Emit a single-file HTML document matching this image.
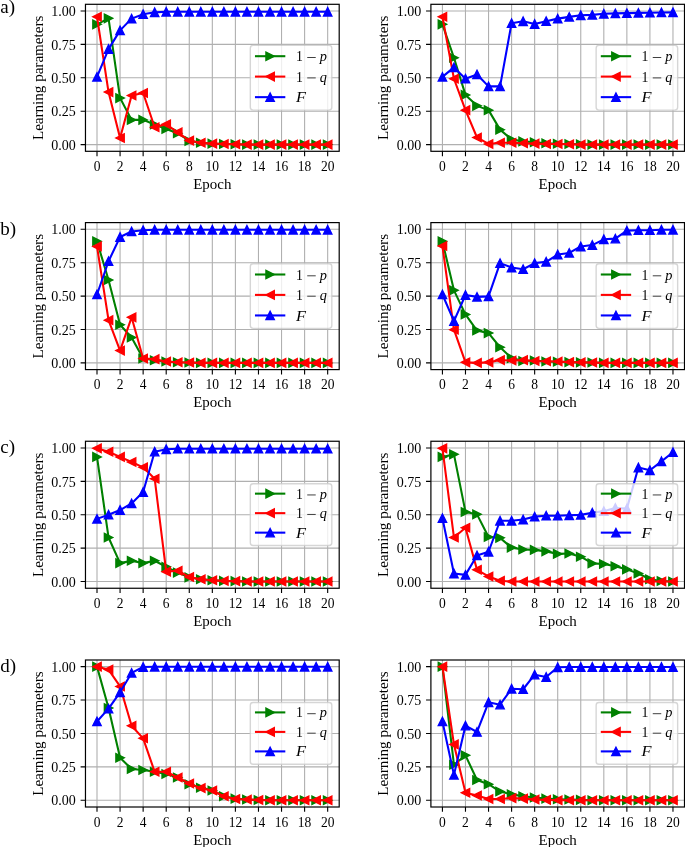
<!DOCTYPE html>
<html><head><meta charset="utf-8"><title>Learning parameters</title>
<style>html,body{margin:0;padding:0;background:#fff}body{width:685px;height:847px;overflow:hidden;font-family:"Liberation Serif",serif}svg{display:block;will-change:transform}</style>
</head><body>
<svg width="685" height="847" viewBox="0 0 685 847" font-family="'Liberation Serif', serif" fill="#000">
<text x="0.3" y="13.0" font-size="19">a)</text>
<clipPath id="c00"><rect x="85.47" y="4.3" width="253.73" height="147.0"/></clipPath>
<g clip-path="url(#c00)">
<path d="M97.00 4.3V151.3M120.07 4.3V151.3M143.14 4.3V151.3M166.20 4.3V151.3M189.27 4.3V151.3M212.33 4.3V151.3M235.40 4.3V151.3M258.47 4.3V151.3M281.53 4.3V151.3M304.60 4.3V151.3M327.67 4.3V151.3M85.47 144.60H339.2M85.47 111.20H339.2M85.47 77.80H339.2M85.47 44.40H339.2M85.47 11.00H339.2" stroke="#b0b0b0" stroke-width="1.11" fill="none"/>
<polyline points="97.00,24.36 108.54,18.35 120.07,98.11 131.60,119.88 143.14,119.88 154.67,124.56 166.20,128.97 177.74,133.24 189.27,140.99 200.80,142.73 212.33,143.66 223.87,144.07 235.40,144.33 246.93,144.60 258.47,144.60 270.00,144.60 281.53,144.60 293.07,144.60 304.60,144.60 316.13,144.60 327.67,144.60" fill="none" stroke="#008000" stroke-width="2.08" stroke-linejoin="round"/>
<polygon points="92.83,20.19 101.17,24.36 92.83,28.53" fill="#008000" stroke="#008000" stroke-width="1.39" stroke-linejoin="miter"/>
<polygon points="104.37,14.18 112.71,18.35 104.37,22.52" fill="#008000" stroke="#008000" stroke-width="1.39" stroke-linejoin="miter"/>
<polygon points="115.90,93.94 124.24,98.11 115.90,102.28" fill="#008000" stroke="#008000" stroke-width="1.39" stroke-linejoin="miter"/>
<polygon points="127.43,115.71 135.77,119.88 127.43,124.05" fill="#008000" stroke="#008000" stroke-width="1.39" stroke-linejoin="miter"/>
<polygon points="138.97,115.71 147.31,119.88 138.97,124.05" fill="#008000" stroke="#008000" stroke-width="1.39" stroke-linejoin="miter"/>
<polygon points="150.50,120.39 158.84,124.56 150.50,128.73" fill="#008000" stroke="#008000" stroke-width="1.39" stroke-linejoin="miter"/>
<polygon points="162.03,124.80 170.37,128.97 162.03,133.14" fill="#008000" stroke="#008000" stroke-width="1.39" stroke-linejoin="miter"/>
<polygon points="173.57,129.07 181.91,133.24 173.57,137.41" fill="#008000" stroke="#008000" stroke-width="1.39" stroke-linejoin="miter"/>
<polygon points="185.10,136.82 193.44,140.99 185.10,145.16" fill="#008000" stroke="#008000" stroke-width="1.39" stroke-linejoin="miter"/>
<polygon points="196.63,138.56 204.97,142.73 196.63,146.90" fill="#008000" stroke="#008000" stroke-width="1.39" stroke-linejoin="miter"/>
<polygon points="208.16,139.49 216.50,143.66 208.16,147.83" fill="#008000" stroke="#008000" stroke-width="1.39" stroke-linejoin="miter"/>
<polygon points="219.70,139.90 228.04,144.07 219.70,148.24" fill="#008000" stroke="#008000" stroke-width="1.39" stroke-linejoin="miter"/>
<polygon points="231.23,140.16 239.57,144.33 231.23,148.50" fill="#008000" stroke="#008000" stroke-width="1.39" stroke-linejoin="miter"/>
<polygon points="242.76,140.43 251.10,144.60 242.76,148.77" fill="#008000" stroke="#008000" stroke-width="1.39" stroke-linejoin="miter"/>
<polygon points="254.30,140.43 262.64,144.60 254.30,148.77" fill="#008000" stroke="#008000" stroke-width="1.39" stroke-linejoin="miter"/>
<polygon points="265.83,140.43 274.17,144.60 265.83,148.77" fill="#008000" stroke="#008000" stroke-width="1.39" stroke-linejoin="miter"/>
<polygon points="277.36,140.43 285.70,144.60 277.36,148.77" fill="#008000" stroke="#008000" stroke-width="1.39" stroke-linejoin="miter"/>
<polygon points="288.90,140.43 297.24,144.60 288.90,148.77" fill="#008000" stroke="#008000" stroke-width="1.39" stroke-linejoin="miter"/>
<polygon points="300.43,140.43 308.77,144.60 300.43,148.77" fill="#008000" stroke="#008000" stroke-width="1.39" stroke-linejoin="miter"/>
<polygon points="311.96,140.43 320.30,144.60 311.96,148.77" fill="#008000" stroke="#008000" stroke-width="1.39" stroke-linejoin="miter"/>
<polygon points="323.50,140.43 331.84,144.60 323.50,148.77" fill="#008000" stroke="#008000" stroke-width="1.39" stroke-linejoin="miter"/>
<polyline points="97.00,16.74 108.54,92.10 120.07,137.92 131.60,95.44 143.14,93.03 154.67,127.23 166.20,124.29 177.74,132.31 189.27,140.59 200.80,142.73 212.33,143.66 223.87,144.07 235.40,144.33 246.93,144.60 258.47,144.60 270.00,144.60 281.53,144.60 293.07,144.60 304.60,144.60 316.13,144.60 327.67,144.60" fill="none" stroke="#ff0000" stroke-width="2.08" stroke-linejoin="round"/>
<polygon points="101.17,12.57 92.83,16.74 101.17,20.91" fill="#ff0000" stroke="#ff0000" stroke-width="1.39" stroke-linejoin="miter"/>
<polygon points="112.71,87.93 104.37,92.10 112.71,96.27" fill="#ff0000" stroke="#ff0000" stroke-width="1.39" stroke-linejoin="miter"/>
<polygon points="124.24,133.75 115.90,137.92 124.24,142.09" fill="#ff0000" stroke="#ff0000" stroke-width="1.39" stroke-linejoin="miter"/>
<polygon points="135.77,91.27 127.43,95.44 135.77,99.61" fill="#ff0000" stroke="#ff0000" stroke-width="1.39" stroke-linejoin="miter"/>
<polygon points="147.31,88.86 138.97,93.03 147.31,97.20" fill="#ff0000" stroke="#ff0000" stroke-width="1.39" stroke-linejoin="miter"/>
<polygon points="158.84,123.06 150.50,127.23 158.84,131.40" fill="#ff0000" stroke="#ff0000" stroke-width="1.39" stroke-linejoin="miter"/>
<polygon points="170.37,120.12 162.03,124.29 170.37,128.46" fill="#ff0000" stroke="#ff0000" stroke-width="1.39" stroke-linejoin="miter"/>
<polygon points="181.91,128.14 173.57,132.31 181.91,136.48" fill="#ff0000" stroke="#ff0000" stroke-width="1.39" stroke-linejoin="miter"/>
<polygon points="193.44,136.42 185.10,140.59 193.44,144.76" fill="#ff0000" stroke="#ff0000" stroke-width="1.39" stroke-linejoin="miter"/>
<polygon points="204.97,138.56 196.63,142.73 204.97,146.90" fill="#ff0000" stroke="#ff0000" stroke-width="1.39" stroke-linejoin="miter"/>
<polygon points="216.50,139.49 208.16,143.66 216.50,147.83" fill="#ff0000" stroke="#ff0000" stroke-width="1.39" stroke-linejoin="miter"/>
<polygon points="228.04,139.90 219.70,144.07 228.04,148.24" fill="#ff0000" stroke="#ff0000" stroke-width="1.39" stroke-linejoin="miter"/>
<polygon points="239.57,140.16 231.23,144.33 239.57,148.50" fill="#ff0000" stroke="#ff0000" stroke-width="1.39" stroke-linejoin="miter"/>
<polygon points="251.10,140.43 242.76,144.60 251.10,148.77" fill="#ff0000" stroke="#ff0000" stroke-width="1.39" stroke-linejoin="miter"/>
<polygon points="262.64,140.43 254.30,144.60 262.64,148.77" fill="#ff0000" stroke="#ff0000" stroke-width="1.39" stroke-linejoin="miter"/>
<polygon points="274.17,140.43 265.83,144.60 274.17,148.77" fill="#ff0000" stroke="#ff0000" stroke-width="1.39" stroke-linejoin="miter"/>
<polygon points="285.70,140.43 277.36,144.60 285.70,148.77" fill="#ff0000" stroke="#ff0000" stroke-width="1.39" stroke-linejoin="miter"/>
<polygon points="297.24,140.43 288.90,144.60 297.24,148.77" fill="#ff0000" stroke="#ff0000" stroke-width="1.39" stroke-linejoin="miter"/>
<polygon points="308.77,140.43 300.43,144.60 308.77,148.77" fill="#ff0000" stroke="#ff0000" stroke-width="1.39" stroke-linejoin="miter"/>
<polygon points="320.30,140.43 311.96,144.60 320.30,148.77" fill="#ff0000" stroke="#ff0000" stroke-width="1.39" stroke-linejoin="miter"/>
<polygon points="331.84,140.43 323.50,144.60 331.84,148.77" fill="#ff0000" stroke="#ff0000" stroke-width="1.39" stroke-linejoin="miter"/>
<polyline points="97.00,76.86 108.54,49.08 120.07,30.37 131.60,18.62 143.14,14.21 154.67,12.34 166.20,11.80 177.74,11.80 189.27,11.80 200.80,11.80 212.33,11.80 223.87,11.80 235.40,11.80 246.93,11.80 258.47,11.80 270.00,11.80 281.53,11.80 293.07,11.80 304.60,11.80 316.13,11.80 327.67,11.80" fill="none" stroke="#0000ff" stroke-width="2.08" stroke-linejoin="round"/>
<polygon points="92.83,81.03 97.00,72.69 101.17,81.03" fill="#0000ff" stroke="#0000ff" stroke-width="1.39" stroke-linejoin="miter"/>
<polygon points="104.37,53.25 108.54,44.91 112.71,53.25" fill="#0000ff" stroke="#0000ff" stroke-width="1.39" stroke-linejoin="miter"/>
<polygon points="115.90,34.54 120.07,26.20 124.24,34.54" fill="#0000ff" stroke="#0000ff" stroke-width="1.39" stroke-linejoin="miter"/>
<polygon points="127.43,22.79 131.60,14.45 135.77,22.79" fill="#0000ff" stroke="#0000ff" stroke-width="1.39" stroke-linejoin="miter"/>
<polygon points="138.97,18.38 143.14,10.04 147.31,18.38" fill="#0000ff" stroke="#0000ff" stroke-width="1.39" stroke-linejoin="miter"/>
<polygon points="150.50,16.51 154.67,8.17 158.84,16.51" fill="#0000ff" stroke="#0000ff" stroke-width="1.39" stroke-linejoin="miter"/>
<polygon points="162.03,15.97 166.20,7.63 170.37,15.97" fill="#0000ff" stroke="#0000ff" stroke-width="1.39" stroke-linejoin="miter"/>
<polygon points="173.57,15.97 177.74,7.63 181.91,15.97" fill="#0000ff" stroke="#0000ff" stroke-width="1.39" stroke-linejoin="miter"/>
<polygon points="185.10,15.97 189.27,7.63 193.44,15.97" fill="#0000ff" stroke="#0000ff" stroke-width="1.39" stroke-linejoin="miter"/>
<polygon points="196.63,15.97 200.80,7.63 204.97,15.97" fill="#0000ff" stroke="#0000ff" stroke-width="1.39" stroke-linejoin="miter"/>
<polygon points="208.16,15.97 212.33,7.63 216.50,15.97" fill="#0000ff" stroke="#0000ff" stroke-width="1.39" stroke-linejoin="miter"/>
<polygon points="219.70,15.97 223.87,7.63 228.04,15.97" fill="#0000ff" stroke="#0000ff" stroke-width="1.39" stroke-linejoin="miter"/>
<polygon points="231.23,15.97 235.40,7.63 239.57,15.97" fill="#0000ff" stroke="#0000ff" stroke-width="1.39" stroke-linejoin="miter"/>
<polygon points="242.76,15.97 246.93,7.63 251.10,15.97" fill="#0000ff" stroke="#0000ff" stroke-width="1.39" stroke-linejoin="miter"/>
<polygon points="254.30,15.97 258.47,7.63 262.64,15.97" fill="#0000ff" stroke="#0000ff" stroke-width="1.39" stroke-linejoin="miter"/>
<polygon points="265.83,15.97 270.00,7.63 274.17,15.97" fill="#0000ff" stroke="#0000ff" stroke-width="1.39" stroke-linejoin="miter"/>
<polygon points="277.36,15.97 281.53,7.63 285.70,15.97" fill="#0000ff" stroke="#0000ff" stroke-width="1.39" stroke-linejoin="miter"/>
<polygon points="288.90,15.97 293.07,7.63 297.24,15.97" fill="#0000ff" stroke="#0000ff" stroke-width="1.39" stroke-linejoin="miter"/>
<polygon points="300.43,15.97 304.60,7.63 308.77,15.97" fill="#0000ff" stroke="#0000ff" stroke-width="1.39" stroke-linejoin="miter"/>
<polygon points="311.96,15.97 316.13,7.63 320.30,15.97" fill="#0000ff" stroke="#0000ff" stroke-width="1.39" stroke-linejoin="miter"/>
<polygon points="323.50,15.97 327.67,7.63 331.84,15.97" fill="#0000ff" stroke="#0000ff" stroke-width="1.39" stroke-linejoin="miter"/>
</g>
<rect x="250.32" y="45.40" width="81.5" height="64.7" rx="2.8" fill="#fff" fill-opacity="0.8" stroke="#ccc" stroke-opacity="0.8" stroke-width="1.39"/>
<path d="M254.97 56.20H285.32" stroke="#008000" stroke-width="2.08"/>
<polygon points="265.95,52.03 274.29,56.20 265.95,60.37" fill="#008000" stroke="#008000" stroke-width="1.39" stroke-linejoin="miter"/>
<text x="296.02" y="61.25" font-size="13.7" textLength="6.9" lengthAdjust="spacingAndGlyphs">1</text>
<path d="M307.22 57.50h8.5" stroke="#000" stroke-width="0.75"/>
<text x="319.72" y="61.25" font-size="14.299999999999999" font-style="italic">p</text>
<path d="M254.97 76.60H285.32" stroke="#ff0000" stroke-width="2.08"/>
<polygon points="274.29,72.43 265.95,76.60 274.29,80.77" fill="#ff0000" stroke="#ff0000" stroke-width="1.39" stroke-linejoin="miter"/>
<text x="296.02" y="81.65" font-size="13.7" textLength="6.9" lengthAdjust="spacingAndGlyphs">1</text>
<path d="M307.22 77.90h8.5" stroke="#000" stroke-width="0.75"/>
<text x="319.72" y="81.65" font-size="14.299999999999999" font-style="italic">q</text>
<path d="M254.97 97.15H285.32" stroke="#0000ff" stroke-width="2.08"/>
<polygon points="265.95,101.32 270.12,92.98 274.29,101.32" fill="#0000ff" stroke="#0000ff" stroke-width="1.39" stroke-linejoin="miter"/>
<text x="295.92" y="102.20" font-size="14.299999999999999" font-style="italic" textLength="10.0" lengthAdjust="spacingAndGlyphs">F</text>
<rect x="85.47" y="4.3" width="253.73" height="147.0" fill="none" stroke="#000" stroke-width="1.2"/>
<path d="M97.00 151.3v4.86M120.07 151.3v4.86M143.14 151.3v4.86M166.20 151.3v4.86M189.27 151.3v4.86M212.33 151.3v4.86M235.40 151.3v4.86M258.47 151.3v4.86M281.53 151.3v4.86M304.60 151.3v4.86M327.67 151.3v4.86M85.47 144.60h-4.86M85.47 111.20h-4.86M85.47 77.80h-4.86M85.47 44.40h-4.86M85.47 11.00h-4.86" stroke="#000" stroke-width="1.11" fill="none"/>
<text x="97.00" y="171.00" font-size="13.7" text-anchor="middle" textLength="6.75" lengthAdjust="spacingAndGlyphs">0</text>
<text x="120.07" y="171.00" font-size="13.7" text-anchor="middle" textLength="6.75" lengthAdjust="spacingAndGlyphs">2</text>
<text x="143.14" y="171.00" font-size="13.7" text-anchor="middle" textLength="6.75" lengthAdjust="spacingAndGlyphs">4</text>
<text x="166.20" y="171.00" font-size="13.7" text-anchor="middle" textLength="6.75" lengthAdjust="spacingAndGlyphs">6</text>
<text x="189.27" y="171.00" font-size="13.7" text-anchor="middle" textLength="6.75" lengthAdjust="spacingAndGlyphs">8</text>
<text x="212.33" y="171.00" font-size="13.7" text-anchor="middle" textLength="13.5" lengthAdjust="spacingAndGlyphs">10</text>
<text x="235.40" y="171.00" font-size="13.7" text-anchor="middle" textLength="13.5" lengthAdjust="spacingAndGlyphs">12</text>
<text x="258.47" y="171.00" font-size="13.7" text-anchor="middle" textLength="13.5" lengthAdjust="spacingAndGlyphs">14</text>
<text x="281.53" y="171.00" font-size="13.7" text-anchor="middle" textLength="13.5" lengthAdjust="spacingAndGlyphs">16</text>
<text x="304.60" y="171.00" font-size="13.7" text-anchor="middle" textLength="13.5" lengthAdjust="spacingAndGlyphs">18</text>
<text x="327.67" y="171.00" font-size="13.7" text-anchor="middle" textLength="13.5" lengthAdjust="spacingAndGlyphs">20</text>
<text x="75.87" y="149.75" font-size="13.7" text-anchor="end" textLength="24.5" lengthAdjust="spacingAndGlyphs">0.00</text>
<text x="75.87" y="116.35" font-size="13.7" text-anchor="end" textLength="24.5" lengthAdjust="spacingAndGlyphs">0.25</text>
<text x="75.87" y="82.95" font-size="13.7" text-anchor="end" textLength="24.5" lengthAdjust="spacingAndGlyphs">0.50</text>
<text x="75.87" y="49.55" font-size="13.7" text-anchor="end" textLength="24.5" lengthAdjust="spacingAndGlyphs">0.75</text>
<text x="75.87" y="16.15" font-size="13.7" text-anchor="end" textLength="24.5" lengthAdjust="spacingAndGlyphs">1.00</text>
<text x="212.33" y="188.80" font-size="13.7" text-anchor="middle" textLength="38.2" lengthAdjust="spacingAndGlyphs">Epoch</text>
<text transform="translate(42.77 77.90) rotate(-90)" font-size="13.7" text-anchor="middle" textLength="124.4" lengthAdjust="spacingAndGlyphs">Learning parameters</text>
<clipPath id="c01"><rect x="430.9" y="4.3" width="253.60000000000002" height="147.0"/></clipPath>
<g clip-path="url(#c01)">
<path d="M442.43 4.3V151.3M465.48 4.3V151.3M488.54 4.3V151.3M511.59 4.3V151.3M534.65 4.3V151.3M557.70 4.3V151.3M580.75 4.3V151.3M603.81 4.3V151.3M626.86 4.3V151.3M649.92 4.3V151.3M672.97 4.3V151.3M430.9 144.60H684.5M430.9 111.20H684.5M430.9 77.80H684.5M430.9 44.40H684.5M430.9 11.00H684.5" stroke="#b0b0b0" stroke-width="1.11" fill="none"/>
<polyline points="442.43,24.36 453.95,57.76 465.48,94.90 477.01,105.86 488.54,110.13 500.06,129.64 511.59,139.52 523.12,141.39 534.65,142.33 546.17,143.26 557.70,143.80 569.23,144.07 580.75,144.33 592.28,144.60 603.81,144.60 615.34,144.60 626.86,144.60 638.39,144.60 649.92,144.60 661.45,144.60 672.97,144.60" fill="none" stroke="#008000" stroke-width="2.08" stroke-linejoin="round"/>
<polygon points="438.26,20.19 446.60,24.36 438.26,28.53" fill="#008000" stroke="#008000" stroke-width="1.39" stroke-linejoin="miter"/>
<polygon points="449.78,53.59 458.12,57.76 449.78,61.93" fill="#008000" stroke="#008000" stroke-width="1.39" stroke-linejoin="miter"/>
<polygon points="461.31,90.73 469.65,94.90 461.31,99.07" fill="#008000" stroke="#008000" stroke-width="1.39" stroke-linejoin="miter"/>
<polygon points="472.84,101.69 481.18,105.86 472.84,110.03" fill="#008000" stroke="#008000" stroke-width="1.39" stroke-linejoin="miter"/>
<polygon points="484.37,105.96 492.71,110.13 484.37,114.30" fill="#008000" stroke="#008000" stroke-width="1.39" stroke-linejoin="miter"/>
<polygon points="495.89,125.47 504.23,129.64 495.89,133.81" fill="#008000" stroke="#008000" stroke-width="1.39" stroke-linejoin="miter"/>
<polygon points="507.42,135.35 515.76,139.52 507.42,143.69" fill="#008000" stroke="#008000" stroke-width="1.39" stroke-linejoin="miter"/>
<polygon points="518.95,137.22 527.29,141.39 518.95,145.56" fill="#008000" stroke="#008000" stroke-width="1.39" stroke-linejoin="miter"/>
<polygon points="530.48,138.16 538.82,142.33 530.48,146.50" fill="#008000" stroke="#008000" stroke-width="1.39" stroke-linejoin="miter"/>
<polygon points="542.00,139.09 550.34,143.26 542.00,147.43" fill="#008000" stroke="#008000" stroke-width="1.39" stroke-linejoin="miter"/>
<polygon points="553.53,139.63 561.87,143.80 553.53,147.97" fill="#008000" stroke="#008000" stroke-width="1.39" stroke-linejoin="miter"/>
<polygon points="565.06,139.90 573.40,144.07 565.06,148.24" fill="#008000" stroke="#008000" stroke-width="1.39" stroke-linejoin="miter"/>
<polygon points="576.58,140.16 584.92,144.33 576.58,148.50" fill="#008000" stroke="#008000" stroke-width="1.39" stroke-linejoin="miter"/>
<polygon points="588.11,140.43 596.45,144.60 588.11,148.77" fill="#008000" stroke="#008000" stroke-width="1.39" stroke-linejoin="miter"/>
<polygon points="599.64,140.43 607.98,144.60 599.64,148.77" fill="#008000" stroke="#008000" stroke-width="1.39" stroke-linejoin="miter"/>
<polygon points="611.17,140.43 619.51,144.60 611.17,148.77" fill="#008000" stroke="#008000" stroke-width="1.39" stroke-linejoin="miter"/>
<polygon points="622.69,140.43 631.03,144.60 622.69,148.77" fill="#008000" stroke="#008000" stroke-width="1.39" stroke-linejoin="miter"/>
<polygon points="634.22,140.43 642.56,144.60 634.22,148.77" fill="#008000" stroke="#008000" stroke-width="1.39" stroke-linejoin="miter"/>
<polygon points="645.75,140.43 654.09,144.60 645.75,148.77" fill="#008000" stroke="#008000" stroke-width="1.39" stroke-linejoin="miter"/>
<polygon points="657.28,140.43 665.62,144.60 657.28,148.77" fill="#008000" stroke="#008000" stroke-width="1.39" stroke-linejoin="miter"/>
<polygon points="668.80,140.43 677.14,144.60 668.80,148.77" fill="#008000" stroke="#008000" stroke-width="1.39" stroke-linejoin="miter"/>
<polyline points="442.43,16.74 453.95,78.74 465.48,110.13 477.01,137.52 488.54,143.93 500.06,142.73 511.59,142.73 523.12,143.26 534.65,143.66 546.17,143.93 557.70,144.07 569.23,144.33 580.75,144.60 592.28,144.60 603.81,144.60 615.34,144.60 626.86,144.60 638.39,144.60 649.92,144.60 661.45,144.60 672.97,144.60" fill="none" stroke="#ff0000" stroke-width="2.08" stroke-linejoin="round"/>
<polygon points="446.60,12.57 438.26,16.74 446.60,20.91" fill="#ff0000" stroke="#ff0000" stroke-width="1.39" stroke-linejoin="miter"/>
<polygon points="458.12,74.57 449.78,78.74 458.12,82.91" fill="#ff0000" stroke="#ff0000" stroke-width="1.39" stroke-linejoin="miter"/>
<polygon points="469.65,105.96 461.31,110.13 469.65,114.30" fill="#ff0000" stroke="#ff0000" stroke-width="1.39" stroke-linejoin="miter"/>
<polygon points="481.18,133.35 472.84,137.52 481.18,141.69" fill="#ff0000" stroke="#ff0000" stroke-width="1.39" stroke-linejoin="miter"/>
<polygon points="492.71,139.76 484.37,143.93 492.71,148.10" fill="#ff0000" stroke="#ff0000" stroke-width="1.39" stroke-linejoin="miter"/>
<polygon points="504.23,138.56 495.89,142.73 504.23,146.90" fill="#ff0000" stroke="#ff0000" stroke-width="1.39" stroke-linejoin="miter"/>
<polygon points="515.76,138.56 507.42,142.73 515.76,146.90" fill="#ff0000" stroke="#ff0000" stroke-width="1.39" stroke-linejoin="miter"/>
<polygon points="527.29,139.09 518.95,143.26 527.29,147.43" fill="#ff0000" stroke="#ff0000" stroke-width="1.39" stroke-linejoin="miter"/>
<polygon points="538.82,139.49 530.48,143.66 538.82,147.83" fill="#ff0000" stroke="#ff0000" stroke-width="1.39" stroke-linejoin="miter"/>
<polygon points="550.34,139.76 542.00,143.93 550.34,148.10" fill="#ff0000" stroke="#ff0000" stroke-width="1.39" stroke-linejoin="miter"/>
<polygon points="561.87,139.90 553.53,144.07 561.87,148.24" fill="#ff0000" stroke="#ff0000" stroke-width="1.39" stroke-linejoin="miter"/>
<polygon points="573.40,140.16 565.06,144.33 573.40,148.50" fill="#ff0000" stroke="#ff0000" stroke-width="1.39" stroke-linejoin="miter"/>
<polygon points="584.92,140.43 576.58,144.60 584.92,148.77" fill="#ff0000" stroke="#ff0000" stroke-width="1.39" stroke-linejoin="miter"/>
<polygon points="596.45,140.43 588.11,144.60 596.45,148.77" fill="#ff0000" stroke="#ff0000" stroke-width="1.39" stroke-linejoin="miter"/>
<polygon points="607.98,140.43 599.64,144.60 607.98,148.77" fill="#ff0000" stroke="#ff0000" stroke-width="1.39" stroke-linejoin="miter"/>
<polygon points="619.51,140.43 611.17,144.60 619.51,148.77" fill="#ff0000" stroke="#ff0000" stroke-width="1.39" stroke-linejoin="miter"/>
<polygon points="631.03,140.43 622.69,144.60 631.03,148.77" fill="#ff0000" stroke="#ff0000" stroke-width="1.39" stroke-linejoin="miter"/>
<polygon points="642.56,140.43 634.22,144.60 642.56,148.77" fill="#ff0000" stroke="#ff0000" stroke-width="1.39" stroke-linejoin="miter"/>
<polygon points="654.09,140.43 645.75,144.60 654.09,148.77" fill="#ff0000" stroke="#ff0000" stroke-width="1.39" stroke-linejoin="miter"/>
<polygon points="665.62,140.43 657.28,144.60 665.62,148.77" fill="#ff0000" stroke="#ff0000" stroke-width="1.39" stroke-linejoin="miter"/>
<polygon points="677.14,140.43 668.80,144.60 677.14,148.77" fill="#ff0000" stroke="#ff0000" stroke-width="1.39" stroke-linejoin="miter"/>
<polyline points="442.43,76.86 453.95,67.38 465.48,78.74 477.01,74.46 488.54,86.35 500.06,86.35 511.59,23.16 523.12,21.29 534.65,24.09 546.17,21.15 557.70,18.62 569.23,16.88 580.75,15.28 592.28,14.87 603.81,13.81 615.34,13.40 626.86,13.14 638.39,12.87 649.92,12.74 661.45,12.47 672.97,12.34" fill="none" stroke="#0000ff" stroke-width="2.08" stroke-linejoin="round"/>
<polygon points="438.26,81.03 442.43,72.69 446.60,81.03" fill="#0000ff" stroke="#0000ff" stroke-width="1.39" stroke-linejoin="miter"/>
<polygon points="449.78,71.55 453.95,63.21 458.12,71.55" fill="#0000ff" stroke="#0000ff" stroke-width="1.39" stroke-linejoin="miter"/>
<polygon points="461.31,82.91 465.48,74.57 469.65,82.91" fill="#0000ff" stroke="#0000ff" stroke-width="1.39" stroke-linejoin="miter"/>
<polygon points="472.84,78.63 477.01,70.29 481.18,78.63" fill="#0000ff" stroke="#0000ff" stroke-width="1.39" stroke-linejoin="miter"/>
<polygon points="484.37,90.52 488.54,82.18 492.71,90.52" fill="#0000ff" stroke="#0000ff" stroke-width="1.39" stroke-linejoin="miter"/>
<polygon points="495.89,90.52 500.06,82.18 504.23,90.52" fill="#0000ff" stroke="#0000ff" stroke-width="1.39" stroke-linejoin="miter"/>
<polygon points="507.42,27.33 511.59,18.99 515.76,27.33" fill="#0000ff" stroke="#0000ff" stroke-width="1.39" stroke-linejoin="miter"/>
<polygon points="518.95,25.46 523.12,17.12 527.29,25.46" fill="#0000ff" stroke="#0000ff" stroke-width="1.39" stroke-linejoin="miter"/>
<polygon points="530.48,28.26 534.65,19.92 538.82,28.26" fill="#0000ff" stroke="#0000ff" stroke-width="1.39" stroke-linejoin="miter"/>
<polygon points="542.00,25.32 546.17,16.98 550.34,25.32" fill="#0000ff" stroke="#0000ff" stroke-width="1.39" stroke-linejoin="miter"/>
<polygon points="553.53,22.79 557.70,14.45 561.87,22.79" fill="#0000ff" stroke="#0000ff" stroke-width="1.39" stroke-linejoin="miter"/>
<polygon points="565.06,21.05 569.23,12.71 573.40,21.05" fill="#0000ff" stroke="#0000ff" stroke-width="1.39" stroke-linejoin="miter"/>
<polygon points="576.58,19.45 580.75,11.11 584.92,19.45" fill="#0000ff" stroke="#0000ff" stroke-width="1.39" stroke-linejoin="miter"/>
<polygon points="588.11,19.04 592.28,10.70 596.45,19.04" fill="#0000ff" stroke="#0000ff" stroke-width="1.39" stroke-linejoin="miter"/>
<polygon points="599.64,17.98 603.81,9.64 607.98,17.98" fill="#0000ff" stroke="#0000ff" stroke-width="1.39" stroke-linejoin="miter"/>
<polygon points="611.17,17.57 615.34,9.23 619.51,17.57" fill="#0000ff" stroke="#0000ff" stroke-width="1.39" stroke-linejoin="miter"/>
<polygon points="622.69,17.31 626.86,8.97 631.03,17.31" fill="#0000ff" stroke="#0000ff" stroke-width="1.39" stroke-linejoin="miter"/>
<polygon points="634.22,17.04 638.39,8.70 642.56,17.04" fill="#0000ff" stroke="#0000ff" stroke-width="1.39" stroke-linejoin="miter"/>
<polygon points="645.75,16.91 649.92,8.57 654.09,16.91" fill="#0000ff" stroke="#0000ff" stroke-width="1.39" stroke-linejoin="miter"/>
<polygon points="657.28,16.64 661.45,8.30 665.62,16.64" fill="#0000ff" stroke="#0000ff" stroke-width="1.39" stroke-linejoin="miter"/>
<polygon points="668.80,16.51 672.97,8.17 677.14,16.51" fill="#0000ff" stroke="#0000ff" stroke-width="1.39" stroke-linejoin="miter"/>
</g>
<rect x="596.15" y="45.40" width="81.5" height="64.7" rx="2.8" fill="#fff" fill-opacity="0.8" stroke="#ccc" stroke-opacity="0.8" stroke-width="1.39"/>
<path d="M600.80 56.20H631.15" stroke="#008000" stroke-width="2.08"/>
<polygon points="611.78,52.03 620.12,56.20 611.78,60.37" fill="#008000" stroke="#008000" stroke-width="1.39" stroke-linejoin="miter"/>
<text x="641.55" y="61.25" font-size="13.7" textLength="6.9" lengthAdjust="spacingAndGlyphs">1</text>
<path d="M652.75 57.50h8.5" stroke="#000" stroke-width="0.75"/>
<text x="665.25" y="61.25" font-size="14.299999999999999" font-style="italic">p</text>
<path d="M600.80 76.60H631.15" stroke="#ff0000" stroke-width="2.08"/>
<polygon points="620.12,72.43 611.78,76.60 620.12,80.77" fill="#ff0000" stroke="#ff0000" stroke-width="1.39" stroke-linejoin="miter"/>
<text x="641.55" y="81.65" font-size="13.7" textLength="6.9" lengthAdjust="spacingAndGlyphs">1</text>
<path d="M652.75 77.90h8.5" stroke="#000" stroke-width="0.75"/>
<text x="665.25" y="81.65" font-size="14.299999999999999" font-style="italic">q</text>
<path d="M600.80 97.15H631.15" stroke="#0000ff" stroke-width="2.08"/>
<polygon points="611.78,101.32 615.95,92.98 620.12,101.32" fill="#0000ff" stroke="#0000ff" stroke-width="1.39" stroke-linejoin="miter"/>
<text x="641.45" y="102.20" font-size="14.299999999999999" font-style="italic" textLength="10.0" lengthAdjust="spacingAndGlyphs">F</text>
<rect x="430.9" y="4.3" width="253.60000000000002" height="147.0" fill="none" stroke="#000" stroke-width="1.2"/>
<path d="M442.43 151.3v4.86M465.48 151.3v4.86M488.54 151.3v4.86M511.59 151.3v4.86M534.65 151.3v4.86M557.70 151.3v4.86M580.75 151.3v4.86M603.81 151.3v4.86M626.86 151.3v4.86M649.92 151.3v4.86M672.97 151.3v4.86M430.9 144.60h-4.86M430.9 111.20h-4.86M430.9 77.80h-4.86M430.9 44.40h-4.86M430.9 11.00h-4.86" stroke="#000" stroke-width="1.11" fill="none"/>
<text x="442.43" y="171.00" font-size="13.7" text-anchor="middle" textLength="6.75" lengthAdjust="spacingAndGlyphs">0</text>
<text x="465.48" y="171.00" font-size="13.7" text-anchor="middle" textLength="6.75" lengthAdjust="spacingAndGlyphs">2</text>
<text x="488.54" y="171.00" font-size="13.7" text-anchor="middle" textLength="6.75" lengthAdjust="spacingAndGlyphs">4</text>
<text x="511.59" y="171.00" font-size="13.7" text-anchor="middle" textLength="6.75" lengthAdjust="spacingAndGlyphs">6</text>
<text x="534.65" y="171.00" font-size="13.7" text-anchor="middle" textLength="6.75" lengthAdjust="spacingAndGlyphs">8</text>
<text x="557.70" y="171.00" font-size="13.7" text-anchor="middle" textLength="13.5" lengthAdjust="spacingAndGlyphs">10</text>
<text x="580.75" y="171.00" font-size="13.7" text-anchor="middle" textLength="13.5" lengthAdjust="spacingAndGlyphs">12</text>
<text x="603.81" y="171.00" font-size="13.7" text-anchor="middle" textLength="13.5" lengthAdjust="spacingAndGlyphs">14</text>
<text x="626.86" y="171.00" font-size="13.7" text-anchor="middle" textLength="13.5" lengthAdjust="spacingAndGlyphs">16</text>
<text x="649.92" y="171.00" font-size="13.7" text-anchor="middle" textLength="13.5" lengthAdjust="spacingAndGlyphs">18</text>
<text x="672.97" y="171.00" font-size="13.7" text-anchor="middle" textLength="13.5" lengthAdjust="spacingAndGlyphs">20</text>
<text x="421.30" y="149.75" font-size="13.7" text-anchor="end" textLength="24.5" lengthAdjust="spacingAndGlyphs">0.00</text>
<text x="421.30" y="116.35" font-size="13.7" text-anchor="end" textLength="24.5" lengthAdjust="spacingAndGlyphs">0.25</text>
<text x="421.30" y="82.95" font-size="13.7" text-anchor="end" textLength="24.5" lengthAdjust="spacingAndGlyphs">0.50</text>
<text x="421.30" y="49.55" font-size="13.7" text-anchor="end" textLength="24.5" lengthAdjust="spacingAndGlyphs">0.75</text>
<text x="421.30" y="16.15" font-size="13.7" text-anchor="end" textLength="24.5" lengthAdjust="spacingAndGlyphs">1.00</text>
<text x="557.70" y="188.80" font-size="13.7" text-anchor="middle" textLength="38.2" lengthAdjust="spacingAndGlyphs">Epoch</text>
<text transform="translate(388.20 77.90) rotate(-90)" font-size="13.7" text-anchor="middle" textLength="124.4" lengthAdjust="spacingAndGlyphs">Learning parameters</text>
<text x="0.3" y="234.8" font-size="19">b)</text>
<clipPath id="c10"><rect x="85.47" y="222.6" width="253.73" height="147.0"/></clipPath>
<g clip-path="url(#c10)">
<path d="M97.00 222.6V369.6M120.07 222.6V369.6M143.14 222.6V369.6M166.20 222.6V369.6M189.27 222.6V369.6M212.33 222.6V369.6M235.40 222.6V369.6M258.47 222.6V369.6M281.53 222.6V369.6M304.60 222.6V369.6M327.67 222.6V369.6M85.47 362.90H339.2M85.47 329.50H339.2M85.47 296.10H339.2M85.47 262.70H339.2M85.47 229.30H339.2" stroke="#b0b0b0" stroke-width="1.11" fill="none"/>
<polyline points="97.00,241.32 108.54,280.07 120.07,324.82 131.60,337.52 143.14,358.49 154.67,360.23 166.20,361.43 177.74,362.23 189.27,362.50 200.80,362.90 212.33,362.90 223.87,362.90 235.40,362.90 246.93,362.90 258.47,362.90 270.00,362.90 281.53,362.90 293.07,362.90 304.60,362.90 316.13,362.90 327.67,362.90" fill="none" stroke="#008000" stroke-width="2.08" stroke-linejoin="round"/>
<polygon points="92.83,237.15 101.17,241.32 92.83,245.49" fill="#008000" stroke="#008000" stroke-width="1.39" stroke-linejoin="miter"/>
<polygon points="104.37,275.90 112.71,280.07 104.37,284.24" fill="#008000" stroke="#008000" stroke-width="1.39" stroke-linejoin="miter"/>
<polygon points="115.90,320.65 124.24,324.82 115.90,328.99" fill="#008000" stroke="#008000" stroke-width="1.39" stroke-linejoin="miter"/>
<polygon points="127.43,333.35 135.77,337.52 127.43,341.69" fill="#008000" stroke="#008000" stroke-width="1.39" stroke-linejoin="miter"/>
<polygon points="138.97,354.32 147.31,358.49 138.97,362.66" fill="#008000" stroke="#008000" stroke-width="1.39" stroke-linejoin="miter"/>
<polygon points="150.50,356.06 158.84,360.23 150.50,364.40" fill="#008000" stroke="#008000" stroke-width="1.39" stroke-linejoin="miter"/>
<polygon points="162.03,357.26 170.37,361.43 162.03,365.60" fill="#008000" stroke="#008000" stroke-width="1.39" stroke-linejoin="miter"/>
<polygon points="173.57,358.06 181.91,362.23 173.57,366.40" fill="#008000" stroke="#008000" stroke-width="1.39" stroke-linejoin="miter"/>
<polygon points="185.10,358.33 193.44,362.50 185.10,366.67" fill="#008000" stroke="#008000" stroke-width="1.39" stroke-linejoin="miter"/>
<polygon points="196.63,358.73 204.97,362.90 196.63,367.07" fill="#008000" stroke="#008000" stroke-width="1.39" stroke-linejoin="miter"/>
<polygon points="208.16,358.73 216.50,362.90 208.16,367.07" fill="#008000" stroke="#008000" stroke-width="1.39" stroke-linejoin="miter"/>
<polygon points="219.70,358.73 228.04,362.90 219.70,367.07" fill="#008000" stroke="#008000" stroke-width="1.39" stroke-linejoin="miter"/>
<polygon points="231.23,358.73 239.57,362.90 231.23,367.07" fill="#008000" stroke="#008000" stroke-width="1.39" stroke-linejoin="miter"/>
<polygon points="242.76,358.73 251.10,362.90 242.76,367.07" fill="#008000" stroke="#008000" stroke-width="1.39" stroke-linejoin="miter"/>
<polygon points="254.30,358.73 262.64,362.90 254.30,367.07" fill="#008000" stroke="#008000" stroke-width="1.39" stroke-linejoin="miter"/>
<polygon points="265.83,358.73 274.17,362.90 265.83,367.07" fill="#008000" stroke="#008000" stroke-width="1.39" stroke-linejoin="miter"/>
<polygon points="277.36,358.73 285.70,362.90 277.36,367.07" fill="#008000" stroke="#008000" stroke-width="1.39" stroke-linejoin="miter"/>
<polygon points="288.90,358.73 297.24,362.90 288.90,367.07" fill="#008000" stroke="#008000" stroke-width="1.39" stroke-linejoin="miter"/>
<polygon points="300.43,358.73 308.77,362.90 300.43,367.07" fill="#008000" stroke="#008000" stroke-width="1.39" stroke-linejoin="miter"/>
<polygon points="311.96,358.73 320.30,362.90 311.96,367.07" fill="#008000" stroke="#008000" stroke-width="1.39" stroke-linejoin="miter"/>
<polygon points="323.50,358.73 331.84,362.90 323.50,367.07" fill="#008000" stroke="#008000" stroke-width="1.39" stroke-linejoin="miter"/>
<polyline points="97.00,246.40 108.54,320.15 120.07,350.61 131.60,317.34 143.14,358.49 154.67,359.16 166.20,361.43 177.74,362.23 189.27,362.50 200.80,362.90 212.33,362.90 223.87,362.90 235.40,362.90 246.93,362.90 258.47,362.90 270.00,362.90 281.53,362.90 293.07,362.90 304.60,362.90 316.13,362.90 327.67,362.90" fill="none" stroke="#ff0000" stroke-width="2.08" stroke-linejoin="round"/>
<polygon points="101.17,242.23 92.83,246.40 101.17,250.57" fill="#ff0000" stroke="#ff0000" stroke-width="1.39" stroke-linejoin="miter"/>
<polygon points="112.71,315.98 104.37,320.15 112.71,324.32" fill="#ff0000" stroke="#ff0000" stroke-width="1.39" stroke-linejoin="miter"/>
<polygon points="124.24,346.44 115.90,350.61 124.24,354.78" fill="#ff0000" stroke="#ff0000" stroke-width="1.39" stroke-linejoin="miter"/>
<polygon points="135.77,313.17 127.43,317.34 135.77,321.51" fill="#ff0000" stroke="#ff0000" stroke-width="1.39" stroke-linejoin="miter"/>
<polygon points="147.31,354.32 138.97,358.49 147.31,362.66" fill="#ff0000" stroke="#ff0000" stroke-width="1.39" stroke-linejoin="miter"/>
<polygon points="158.84,354.99 150.50,359.16 158.84,363.33" fill="#ff0000" stroke="#ff0000" stroke-width="1.39" stroke-linejoin="miter"/>
<polygon points="170.37,357.26 162.03,361.43 170.37,365.60" fill="#ff0000" stroke="#ff0000" stroke-width="1.39" stroke-linejoin="miter"/>
<polygon points="181.91,358.06 173.57,362.23 181.91,366.40" fill="#ff0000" stroke="#ff0000" stroke-width="1.39" stroke-linejoin="miter"/>
<polygon points="193.44,358.33 185.10,362.50 193.44,366.67" fill="#ff0000" stroke="#ff0000" stroke-width="1.39" stroke-linejoin="miter"/>
<polygon points="204.97,358.73 196.63,362.90 204.97,367.07" fill="#ff0000" stroke="#ff0000" stroke-width="1.39" stroke-linejoin="miter"/>
<polygon points="216.50,358.73 208.16,362.90 216.50,367.07" fill="#ff0000" stroke="#ff0000" stroke-width="1.39" stroke-linejoin="miter"/>
<polygon points="228.04,358.73 219.70,362.90 228.04,367.07" fill="#ff0000" stroke="#ff0000" stroke-width="1.39" stroke-linejoin="miter"/>
<polygon points="239.57,358.73 231.23,362.90 239.57,367.07" fill="#ff0000" stroke="#ff0000" stroke-width="1.39" stroke-linejoin="miter"/>
<polygon points="251.10,358.73 242.76,362.90 251.10,367.07" fill="#ff0000" stroke="#ff0000" stroke-width="1.39" stroke-linejoin="miter"/>
<polygon points="262.64,358.73 254.30,362.90 262.64,367.07" fill="#ff0000" stroke="#ff0000" stroke-width="1.39" stroke-linejoin="miter"/>
<polygon points="274.17,358.73 265.83,362.90 274.17,367.07" fill="#ff0000" stroke="#ff0000" stroke-width="1.39" stroke-linejoin="miter"/>
<polygon points="285.70,358.73 277.36,362.90 285.70,367.07" fill="#ff0000" stroke="#ff0000" stroke-width="1.39" stroke-linejoin="miter"/>
<polygon points="297.24,358.73 288.90,362.90 297.24,367.07" fill="#ff0000" stroke="#ff0000" stroke-width="1.39" stroke-linejoin="miter"/>
<polygon points="308.77,358.73 300.43,362.90 308.77,367.07" fill="#ff0000" stroke="#ff0000" stroke-width="1.39" stroke-linejoin="miter"/>
<polygon points="320.30,358.73 311.96,362.90 320.30,367.07" fill="#ff0000" stroke="#ff0000" stroke-width="1.39" stroke-linejoin="miter"/>
<polygon points="331.84,358.73 323.50,362.90 331.84,367.07" fill="#ff0000" stroke="#ff0000" stroke-width="1.39" stroke-linejoin="miter"/>
<polyline points="97.00,294.50 108.54,261.23 120.07,237.05 131.60,231.44 143.14,230.24 154.67,229.83 166.20,229.83 177.74,229.83 189.27,229.83 200.80,229.83 212.33,229.83 223.87,229.83 235.40,229.83 246.93,229.83 258.47,229.83 270.00,229.83 281.53,229.83 293.07,229.83 304.60,229.83 316.13,229.83 327.67,229.83" fill="none" stroke="#0000ff" stroke-width="2.08" stroke-linejoin="round"/>
<polygon points="92.83,298.67 97.00,290.33 101.17,298.67" fill="#0000ff" stroke="#0000ff" stroke-width="1.39" stroke-linejoin="miter"/>
<polygon points="104.37,265.40 108.54,257.06 112.71,265.40" fill="#0000ff" stroke="#0000ff" stroke-width="1.39" stroke-linejoin="miter"/>
<polygon points="115.90,241.22 120.07,232.88 124.24,241.22" fill="#0000ff" stroke="#0000ff" stroke-width="1.39" stroke-linejoin="miter"/>
<polygon points="127.43,235.61 131.60,227.27 135.77,235.61" fill="#0000ff" stroke="#0000ff" stroke-width="1.39" stroke-linejoin="miter"/>
<polygon points="138.97,234.41 143.14,226.07 147.31,234.41" fill="#0000ff" stroke="#0000ff" stroke-width="1.39" stroke-linejoin="miter"/>
<polygon points="150.50,234.00 154.67,225.66 158.84,234.00" fill="#0000ff" stroke="#0000ff" stroke-width="1.39" stroke-linejoin="miter"/>
<polygon points="162.03,234.00 166.20,225.66 170.37,234.00" fill="#0000ff" stroke="#0000ff" stroke-width="1.39" stroke-linejoin="miter"/>
<polygon points="173.57,234.00 177.74,225.66 181.91,234.00" fill="#0000ff" stroke="#0000ff" stroke-width="1.39" stroke-linejoin="miter"/>
<polygon points="185.10,234.00 189.27,225.66 193.44,234.00" fill="#0000ff" stroke="#0000ff" stroke-width="1.39" stroke-linejoin="miter"/>
<polygon points="196.63,234.00 200.80,225.66 204.97,234.00" fill="#0000ff" stroke="#0000ff" stroke-width="1.39" stroke-linejoin="miter"/>
<polygon points="208.16,234.00 212.33,225.66 216.50,234.00" fill="#0000ff" stroke="#0000ff" stroke-width="1.39" stroke-linejoin="miter"/>
<polygon points="219.70,234.00 223.87,225.66 228.04,234.00" fill="#0000ff" stroke="#0000ff" stroke-width="1.39" stroke-linejoin="miter"/>
<polygon points="231.23,234.00 235.40,225.66 239.57,234.00" fill="#0000ff" stroke="#0000ff" stroke-width="1.39" stroke-linejoin="miter"/>
<polygon points="242.76,234.00 246.93,225.66 251.10,234.00" fill="#0000ff" stroke="#0000ff" stroke-width="1.39" stroke-linejoin="miter"/>
<polygon points="254.30,234.00 258.47,225.66 262.64,234.00" fill="#0000ff" stroke="#0000ff" stroke-width="1.39" stroke-linejoin="miter"/>
<polygon points="265.83,234.00 270.00,225.66 274.17,234.00" fill="#0000ff" stroke="#0000ff" stroke-width="1.39" stroke-linejoin="miter"/>
<polygon points="277.36,234.00 281.53,225.66 285.70,234.00" fill="#0000ff" stroke="#0000ff" stroke-width="1.39" stroke-linejoin="miter"/>
<polygon points="288.90,234.00 293.07,225.66 297.24,234.00" fill="#0000ff" stroke="#0000ff" stroke-width="1.39" stroke-linejoin="miter"/>
<polygon points="300.43,234.00 304.60,225.66 308.77,234.00" fill="#0000ff" stroke="#0000ff" stroke-width="1.39" stroke-linejoin="miter"/>
<polygon points="311.96,234.00 316.13,225.66 320.30,234.00" fill="#0000ff" stroke="#0000ff" stroke-width="1.39" stroke-linejoin="miter"/>
<polygon points="323.50,234.00 327.67,225.66 331.84,234.00" fill="#0000ff" stroke="#0000ff" stroke-width="1.39" stroke-linejoin="miter"/>
</g>
<rect x="250.32" y="263.70" width="81.5" height="64.7" rx="2.8" fill="#fff" fill-opacity="0.8" stroke="#ccc" stroke-opacity="0.8" stroke-width="1.39"/>
<path d="M254.97 274.50H285.32" stroke="#008000" stroke-width="2.08"/>
<polygon points="265.95,270.33 274.29,274.50 265.95,278.67" fill="#008000" stroke="#008000" stroke-width="1.39" stroke-linejoin="miter"/>
<text x="296.02" y="279.55" font-size="13.7" textLength="6.9" lengthAdjust="spacingAndGlyphs">1</text>
<path d="M307.22 275.80h8.5" stroke="#000" stroke-width="0.75"/>
<text x="319.72" y="279.55" font-size="14.299999999999999" font-style="italic">p</text>
<path d="M254.97 294.90H285.32" stroke="#ff0000" stroke-width="2.08"/>
<polygon points="274.29,290.73 265.95,294.90 274.29,299.07" fill="#ff0000" stroke="#ff0000" stroke-width="1.39" stroke-linejoin="miter"/>
<text x="296.02" y="299.95" font-size="13.7" textLength="6.9" lengthAdjust="spacingAndGlyphs">1</text>
<path d="M307.22 296.20h8.5" stroke="#000" stroke-width="0.75"/>
<text x="319.72" y="299.95" font-size="14.299999999999999" font-style="italic">q</text>
<path d="M254.97 315.45H285.32" stroke="#0000ff" stroke-width="2.08"/>
<polygon points="265.95,319.62 270.12,311.28 274.29,319.62" fill="#0000ff" stroke="#0000ff" stroke-width="1.39" stroke-linejoin="miter"/>
<text x="295.92" y="320.50" font-size="14.299999999999999" font-style="italic" textLength="10.0" lengthAdjust="spacingAndGlyphs">F</text>
<rect x="85.47" y="222.6" width="253.73" height="147.0" fill="none" stroke="#000" stroke-width="1.2"/>
<path d="M97.00 369.6v4.86M120.07 369.6v4.86M143.14 369.6v4.86M166.20 369.6v4.86M189.27 369.6v4.86M212.33 369.6v4.86M235.40 369.6v4.86M258.47 369.6v4.86M281.53 369.6v4.86M304.60 369.6v4.86M327.67 369.6v4.86M85.47 362.90h-4.86M85.47 329.50h-4.86M85.47 296.10h-4.86M85.47 262.70h-4.86M85.47 229.30h-4.86" stroke="#000" stroke-width="1.11" fill="none"/>
<text x="97.00" y="389.30" font-size="13.7" text-anchor="middle" textLength="6.75" lengthAdjust="spacingAndGlyphs">0</text>
<text x="120.07" y="389.30" font-size="13.7" text-anchor="middle" textLength="6.75" lengthAdjust="spacingAndGlyphs">2</text>
<text x="143.14" y="389.30" font-size="13.7" text-anchor="middle" textLength="6.75" lengthAdjust="spacingAndGlyphs">4</text>
<text x="166.20" y="389.30" font-size="13.7" text-anchor="middle" textLength="6.75" lengthAdjust="spacingAndGlyphs">6</text>
<text x="189.27" y="389.30" font-size="13.7" text-anchor="middle" textLength="6.75" lengthAdjust="spacingAndGlyphs">8</text>
<text x="212.33" y="389.30" font-size="13.7" text-anchor="middle" textLength="13.5" lengthAdjust="spacingAndGlyphs">10</text>
<text x="235.40" y="389.30" font-size="13.7" text-anchor="middle" textLength="13.5" lengthAdjust="spacingAndGlyphs">12</text>
<text x="258.47" y="389.30" font-size="13.7" text-anchor="middle" textLength="13.5" lengthAdjust="spacingAndGlyphs">14</text>
<text x="281.53" y="389.30" font-size="13.7" text-anchor="middle" textLength="13.5" lengthAdjust="spacingAndGlyphs">16</text>
<text x="304.60" y="389.30" font-size="13.7" text-anchor="middle" textLength="13.5" lengthAdjust="spacingAndGlyphs">18</text>
<text x="327.67" y="389.30" font-size="13.7" text-anchor="middle" textLength="13.5" lengthAdjust="spacingAndGlyphs">20</text>
<text x="75.87" y="368.05" font-size="13.7" text-anchor="end" textLength="24.5" lengthAdjust="spacingAndGlyphs">0.00</text>
<text x="75.87" y="334.65" font-size="13.7" text-anchor="end" textLength="24.5" lengthAdjust="spacingAndGlyphs">0.25</text>
<text x="75.87" y="301.25" font-size="13.7" text-anchor="end" textLength="24.5" lengthAdjust="spacingAndGlyphs">0.50</text>
<text x="75.87" y="267.85" font-size="13.7" text-anchor="end" textLength="24.5" lengthAdjust="spacingAndGlyphs">0.75</text>
<text x="75.87" y="234.45" font-size="13.7" text-anchor="end" textLength="24.5" lengthAdjust="spacingAndGlyphs">1.00</text>
<text x="212.33" y="407.10" font-size="13.7" text-anchor="middle" textLength="38.2" lengthAdjust="spacingAndGlyphs">Epoch</text>
<text transform="translate(42.77 296.20) rotate(-90)" font-size="13.7" text-anchor="middle" textLength="124.4" lengthAdjust="spacingAndGlyphs">Learning parameters</text>
<clipPath id="c11"><rect x="430.9" y="222.6" width="253.60000000000002" height="147.0"/></clipPath>
<g clip-path="url(#c11)">
<path d="M442.43 222.6V369.6M465.48 222.6V369.6M488.54 222.6V369.6M511.59 222.6V369.6M534.65 222.6V369.6M557.70 222.6V369.6M580.75 222.6V369.6M603.81 222.6V369.6M626.86 222.6V369.6M649.92 222.6V369.6M672.97 222.6V369.6M430.9 362.90H684.5M430.9 329.50H684.5M430.9 296.10H684.5M430.9 262.70H684.5M430.9 229.30H684.5" stroke="#b0b0b0" stroke-width="1.11" fill="none"/>
<polyline points="442.43,241.32 453.95,290.36 465.48,314.40 477.01,330.57 488.54,333.11 500.06,347.27 511.59,358.09 523.12,361.03 534.65,360.50 546.17,361.43 557.70,361.83 569.23,362.10 580.75,362.37 592.28,362.50 603.81,362.90 615.34,362.90 626.86,362.90 638.39,362.90 649.92,362.90 661.45,362.90 672.97,362.90" fill="none" stroke="#008000" stroke-width="2.08" stroke-linejoin="round"/>
<polygon points="438.26,237.15 446.60,241.32 438.26,245.49" fill="#008000" stroke="#008000" stroke-width="1.39" stroke-linejoin="miter"/>
<polygon points="449.78,286.19 458.12,290.36 449.78,294.53" fill="#008000" stroke="#008000" stroke-width="1.39" stroke-linejoin="miter"/>
<polygon points="461.31,310.23 469.65,314.40 461.31,318.57" fill="#008000" stroke="#008000" stroke-width="1.39" stroke-linejoin="miter"/>
<polygon points="472.84,326.40 481.18,330.57 472.84,334.74" fill="#008000" stroke="#008000" stroke-width="1.39" stroke-linejoin="miter"/>
<polygon points="484.37,328.94 492.71,333.11 484.37,337.28" fill="#008000" stroke="#008000" stroke-width="1.39" stroke-linejoin="miter"/>
<polygon points="495.89,343.10 504.23,347.27 495.89,351.44" fill="#008000" stroke="#008000" stroke-width="1.39" stroke-linejoin="miter"/>
<polygon points="507.42,353.92 515.76,358.09 507.42,362.26" fill="#008000" stroke="#008000" stroke-width="1.39" stroke-linejoin="miter"/>
<polygon points="518.95,356.86 527.29,361.03 518.95,365.20" fill="#008000" stroke="#008000" stroke-width="1.39" stroke-linejoin="miter"/>
<polygon points="530.48,356.33 538.82,360.50 530.48,364.67" fill="#008000" stroke="#008000" stroke-width="1.39" stroke-linejoin="miter"/>
<polygon points="542.00,357.26 550.34,361.43 542.00,365.60" fill="#008000" stroke="#008000" stroke-width="1.39" stroke-linejoin="miter"/>
<polygon points="553.53,357.66 561.87,361.83 553.53,366.00" fill="#008000" stroke="#008000" stroke-width="1.39" stroke-linejoin="miter"/>
<polygon points="565.06,357.93 573.40,362.10 565.06,366.27" fill="#008000" stroke="#008000" stroke-width="1.39" stroke-linejoin="miter"/>
<polygon points="576.58,358.20 584.92,362.37 576.58,366.54" fill="#008000" stroke="#008000" stroke-width="1.39" stroke-linejoin="miter"/>
<polygon points="588.11,358.33 596.45,362.50 588.11,366.67" fill="#008000" stroke="#008000" stroke-width="1.39" stroke-linejoin="miter"/>
<polygon points="599.64,358.73 607.98,362.90 599.64,367.07" fill="#008000" stroke="#008000" stroke-width="1.39" stroke-linejoin="miter"/>
<polygon points="611.17,358.73 619.51,362.90 611.17,367.07" fill="#008000" stroke="#008000" stroke-width="1.39" stroke-linejoin="miter"/>
<polygon points="622.69,358.73 631.03,362.90 622.69,367.07" fill="#008000" stroke="#008000" stroke-width="1.39" stroke-linejoin="miter"/>
<polygon points="634.22,358.73 642.56,362.90 634.22,367.07" fill="#008000" stroke="#008000" stroke-width="1.39" stroke-linejoin="miter"/>
<polygon points="645.75,358.73 654.09,362.90 645.75,367.07" fill="#008000" stroke="#008000" stroke-width="1.39" stroke-linejoin="miter"/>
<polygon points="657.28,358.73 665.62,362.90 657.28,367.07" fill="#008000" stroke="#008000" stroke-width="1.39" stroke-linejoin="miter"/>
<polygon points="668.80,358.73 677.14,362.90 668.80,367.07" fill="#008000" stroke="#008000" stroke-width="1.39" stroke-linejoin="miter"/>
<polyline points="442.43,246.00 453.95,329.63 465.48,362.37 477.01,362.90 488.54,362.37 500.06,360.09 511.59,360.50 523.12,360.09 534.65,361.03 546.17,361.30 557.70,361.56 569.23,362.10 580.75,362.37 592.28,362.50 603.81,362.90 615.34,362.90 626.86,362.90 638.39,362.90 649.92,362.90 661.45,362.90 672.97,362.90" fill="none" stroke="#ff0000" stroke-width="2.08" stroke-linejoin="round"/>
<polygon points="446.60,241.83 438.26,246.00 446.60,250.17" fill="#ff0000" stroke="#ff0000" stroke-width="1.39" stroke-linejoin="miter"/>
<polygon points="458.12,325.46 449.78,329.63 458.12,333.80" fill="#ff0000" stroke="#ff0000" stroke-width="1.39" stroke-linejoin="miter"/>
<polygon points="469.65,358.20 461.31,362.37 469.65,366.54" fill="#ff0000" stroke="#ff0000" stroke-width="1.39" stroke-linejoin="miter"/>
<polygon points="481.18,358.73 472.84,362.90 481.18,367.07" fill="#ff0000" stroke="#ff0000" stroke-width="1.39" stroke-linejoin="miter"/>
<polygon points="492.71,358.20 484.37,362.37 492.71,366.54" fill="#ff0000" stroke="#ff0000" stroke-width="1.39" stroke-linejoin="miter"/>
<polygon points="504.23,355.92 495.89,360.09 504.23,364.26" fill="#ff0000" stroke="#ff0000" stroke-width="1.39" stroke-linejoin="miter"/>
<polygon points="515.76,356.33 507.42,360.50 515.76,364.67" fill="#ff0000" stroke="#ff0000" stroke-width="1.39" stroke-linejoin="miter"/>
<polygon points="527.29,355.92 518.95,360.09 527.29,364.26" fill="#ff0000" stroke="#ff0000" stroke-width="1.39" stroke-linejoin="miter"/>
<polygon points="538.82,356.86 530.48,361.03 538.82,365.20" fill="#ff0000" stroke="#ff0000" stroke-width="1.39" stroke-linejoin="miter"/>
<polygon points="550.34,357.13 542.00,361.30 550.34,365.47" fill="#ff0000" stroke="#ff0000" stroke-width="1.39" stroke-linejoin="miter"/>
<polygon points="561.87,357.39 553.53,361.56 561.87,365.73" fill="#ff0000" stroke="#ff0000" stroke-width="1.39" stroke-linejoin="miter"/>
<polygon points="573.40,357.93 565.06,362.10 573.40,366.27" fill="#ff0000" stroke="#ff0000" stroke-width="1.39" stroke-linejoin="miter"/>
<polygon points="584.92,358.20 576.58,362.37 584.92,366.54" fill="#ff0000" stroke="#ff0000" stroke-width="1.39" stroke-linejoin="miter"/>
<polygon points="596.45,358.33 588.11,362.50 596.45,366.67" fill="#ff0000" stroke="#ff0000" stroke-width="1.39" stroke-linejoin="miter"/>
<polygon points="607.98,358.73 599.64,362.90 607.98,367.07" fill="#ff0000" stroke="#ff0000" stroke-width="1.39" stroke-linejoin="miter"/>
<polygon points="619.51,358.73 611.17,362.90 619.51,367.07" fill="#ff0000" stroke="#ff0000" stroke-width="1.39" stroke-linejoin="miter"/>
<polygon points="631.03,358.73 622.69,362.90 631.03,367.07" fill="#ff0000" stroke="#ff0000" stroke-width="1.39" stroke-linejoin="miter"/>
<polygon points="642.56,358.73 634.22,362.90 642.56,367.07" fill="#ff0000" stroke="#ff0000" stroke-width="1.39" stroke-linejoin="miter"/>
<polygon points="654.09,358.73 645.75,362.90 654.09,367.07" fill="#ff0000" stroke="#ff0000" stroke-width="1.39" stroke-linejoin="miter"/>
<polygon points="665.62,358.73 657.28,362.90 665.62,367.07" fill="#ff0000" stroke="#ff0000" stroke-width="1.39" stroke-linejoin="miter"/>
<polygon points="677.14,358.73 668.80,362.90 677.14,367.07" fill="#ff0000" stroke="#ff0000" stroke-width="1.39" stroke-linejoin="miter"/>
<polyline points="442.43,294.50 453.95,321.08 465.48,295.03 477.01,296.90 488.54,296.37 500.06,263.10 511.59,267.51 523.12,269.25 534.65,263.10 546.17,261.76 557.70,254.55 569.23,252.95 580.75,246.53 592.28,245.06 603.81,239.32 615.34,238.65 626.86,230.64 638.39,230.24 649.92,230.24 661.45,229.83 672.97,229.83" fill="none" stroke="#0000ff" stroke-width="2.08" stroke-linejoin="round"/>
<polygon points="438.26,298.67 442.43,290.33 446.60,298.67" fill="#0000ff" stroke="#0000ff" stroke-width="1.39" stroke-linejoin="miter"/>
<polygon points="449.78,325.25 453.95,316.91 458.12,325.25" fill="#0000ff" stroke="#0000ff" stroke-width="1.39" stroke-linejoin="miter"/>
<polygon points="461.31,299.20 465.48,290.86 469.65,299.20" fill="#0000ff" stroke="#0000ff" stroke-width="1.39" stroke-linejoin="miter"/>
<polygon points="472.84,301.07 477.01,292.73 481.18,301.07" fill="#0000ff" stroke="#0000ff" stroke-width="1.39" stroke-linejoin="miter"/>
<polygon points="484.37,300.54 488.54,292.20 492.71,300.54" fill="#0000ff" stroke="#0000ff" stroke-width="1.39" stroke-linejoin="miter"/>
<polygon points="495.89,267.27 500.06,258.93 504.23,267.27" fill="#0000ff" stroke="#0000ff" stroke-width="1.39" stroke-linejoin="miter"/>
<polygon points="507.42,271.68 511.59,263.34 515.76,271.68" fill="#0000ff" stroke="#0000ff" stroke-width="1.39" stroke-linejoin="miter"/>
<polygon points="518.95,273.42 523.12,265.08 527.29,273.42" fill="#0000ff" stroke="#0000ff" stroke-width="1.39" stroke-linejoin="miter"/>
<polygon points="530.48,267.27 534.65,258.93 538.82,267.27" fill="#0000ff" stroke="#0000ff" stroke-width="1.39" stroke-linejoin="miter"/>
<polygon points="542.00,265.93 546.17,257.59 550.34,265.93" fill="#0000ff" stroke="#0000ff" stroke-width="1.39" stroke-linejoin="miter"/>
<polygon points="553.53,258.72 557.70,250.38 561.87,258.72" fill="#0000ff" stroke="#0000ff" stroke-width="1.39" stroke-linejoin="miter"/>
<polygon points="565.06,257.12 569.23,248.78 573.40,257.12" fill="#0000ff" stroke="#0000ff" stroke-width="1.39" stroke-linejoin="miter"/>
<polygon points="576.58,250.70 580.75,242.36 584.92,250.70" fill="#0000ff" stroke="#0000ff" stroke-width="1.39" stroke-linejoin="miter"/>
<polygon points="588.11,249.23 592.28,240.89 596.45,249.23" fill="#0000ff" stroke="#0000ff" stroke-width="1.39" stroke-linejoin="miter"/>
<polygon points="599.64,243.49 603.81,235.15 607.98,243.49" fill="#0000ff" stroke="#0000ff" stroke-width="1.39" stroke-linejoin="miter"/>
<polygon points="611.17,242.82 615.34,234.48 619.51,242.82" fill="#0000ff" stroke="#0000ff" stroke-width="1.39" stroke-linejoin="miter"/>
<polygon points="622.69,234.81 626.86,226.47 631.03,234.81" fill="#0000ff" stroke="#0000ff" stroke-width="1.39" stroke-linejoin="miter"/>
<polygon points="634.22,234.41 638.39,226.07 642.56,234.41" fill="#0000ff" stroke="#0000ff" stroke-width="1.39" stroke-linejoin="miter"/>
<polygon points="645.75,234.41 649.92,226.07 654.09,234.41" fill="#0000ff" stroke="#0000ff" stroke-width="1.39" stroke-linejoin="miter"/>
<polygon points="657.28,234.00 661.45,225.66 665.62,234.00" fill="#0000ff" stroke="#0000ff" stroke-width="1.39" stroke-linejoin="miter"/>
<polygon points="668.80,234.00 672.97,225.66 677.14,234.00" fill="#0000ff" stroke="#0000ff" stroke-width="1.39" stroke-linejoin="miter"/>
</g>
<rect x="596.15" y="263.70" width="81.5" height="64.7" rx="2.8" fill="#fff" fill-opacity="0.8" stroke="#ccc" stroke-opacity="0.8" stroke-width="1.39"/>
<path d="M600.80 274.50H631.15" stroke="#008000" stroke-width="2.08"/>
<polygon points="611.78,270.33 620.12,274.50 611.78,278.67" fill="#008000" stroke="#008000" stroke-width="1.39" stroke-linejoin="miter"/>
<text x="641.55" y="279.55" font-size="13.7" textLength="6.9" lengthAdjust="spacingAndGlyphs">1</text>
<path d="M652.75 275.80h8.5" stroke="#000" stroke-width="0.75"/>
<text x="665.25" y="279.55" font-size="14.299999999999999" font-style="italic">p</text>
<path d="M600.80 294.90H631.15" stroke="#ff0000" stroke-width="2.08"/>
<polygon points="620.12,290.73 611.78,294.90 620.12,299.07" fill="#ff0000" stroke="#ff0000" stroke-width="1.39" stroke-linejoin="miter"/>
<text x="641.55" y="299.95" font-size="13.7" textLength="6.9" lengthAdjust="spacingAndGlyphs">1</text>
<path d="M652.75 296.20h8.5" stroke="#000" stroke-width="0.75"/>
<text x="665.25" y="299.95" font-size="14.299999999999999" font-style="italic">q</text>
<path d="M600.80 315.45H631.15" stroke="#0000ff" stroke-width="2.08"/>
<polygon points="611.78,319.62 615.95,311.28 620.12,319.62" fill="#0000ff" stroke="#0000ff" stroke-width="1.39" stroke-linejoin="miter"/>
<text x="641.45" y="320.50" font-size="14.299999999999999" font-style="italic" textLength="10.0" lengthAdjust="spacingAndGlyphs">F</text>
<rect x="430.9" y="222.6" width="253.60000000000002" height="147.0" fill="none" stroke="#000" stroke-width="1.2"/>
<path d="M442.43 369.6v4.86M465.48 369.6v4.86M488.54 369.6v4.86M511.59 369.6v4.86M534.65 369.6v4.86M557.70 369.6v4.86M580.75 369.6v4.86M603.81 369.6v4.86M626.86 369.6v4.86M649.92 369.6v4.86M672.97 369.6v4.86M430.9 362.90h-4.86M430.9 329.50h-4.86M430.9 296.10h-4.86M430.9 262.70h-4.86M430.9 229.30h-4.86" stroke="#000" stroke-width="1.11" fill="none"/>
<text x="442.43" y="389.30" font-size="13.7" text-anchor="middle" textLength="6.75" lengthAdjust="spacingAndGlyphs">0</text>
<text x="465.48" y="389.30" font-size="13.7" text-anchor="middle" textLength="6.75" lengthAdjust="spacingAndGlyphs">2</text>
<text x="488.54" y="389.30" font-size="13.7" text-anchor="middle" textLength="6.75" lengthAdjust="spacingAndGlyphs">4</text>
<text x="511.59" y="389.30" font-size="13.7" text-anchor="middle" textLength="6.75" lengthAdjust="spacingAndGlyphs">6</text>
<text x="534.65" y="389.30" font-size="13.7" text-anchor="middle" textLength="6.75" lengthAdjust="spacingAndGlyphs">8</text>
<text x="557.70" y="389.30" font-size="13.7" text-anchor="middle" textLength="13.5" lengthAdjust="spacingAndGlyphs">10</text>
<text x="580.75" y="389.30" font-size="13.7" text-anchor="middle" textLength="13.5" lengthAdjust="spacingAndGlyphs">12</text>
<text x="603.81" y="389.30" font-size="13.7" text-anchor="middle" textLength="13.5" lengthAdjust="spacingAndGlyphs">14</text>
<text x="626.86" y="389.30" font-size="13.7" text-anchor="middle" textLength="13.5" lengthAdjust="spacingAndGlyphs">16</text>
<text x="649.92" y="389.30" font-size="13.7" text-anchor="middle" textLength="13.5" lengthAdjust="spacingAndGlyphs">18</text>
<text x="672.97" y="389.30" font-size="13.7" text-anchor="middle" textLength="13.5" lengthAdjust="spacingAndGlyphs">20</text>
<text x="421.30" y="368.05" font-size="13.7" text-anchor="end" textLength="24.5" lengthAdjust="spacingAndGlyphs">0.00</text>
<text x="421.30" y="334.65" font-size="13.7" text-anchor="end" textLength="24.5" lengthAdjust="spacingAndGlyphs">0.25</text>
<text x="421.30" y="301.25" font-size="13.7" text-anchor="end" textLength="24.5" lengthAdjust="spacingAndGlyphs">0.50</text>
<text x="421.30" y="267.85" font-size="13.7" text-anchor="end" textLength="24.5" lengthAdjust="spacingAndGlyphs">0.75</text>
<text x="421.30" y="234.45" font-size="13.7" text-anchor="end" textLength="24.5" lengthAdjust="spacingAndGlyphs">1.00</text>
<text x="557.70" y="407.10" font-size="13.7" text-anchor="middle" textLength="38.2" lengthAdjust="spacingAndGlyphs">Epoch</text>
<text transform="translate(388.20 296.20) rotate(-90)" font-size="13.7" text-anchor="middle" textLength="124.4" lengthAdjust="spacingAndGlyphs">Learning parameters</text>
<text x="0.3" y="453.4" font-size="19">c)</text>
<clipPath id="c20"><rect x="85.47" y="441.25" width="253.73" height="147.0"/></clipPath>
<g clip-path="url(#c20)">
<path d="M97.00 441.25V588.25M120.07 441.25V588.25M143.14 441.25V588.25M166.20 441.25V588.25M189.27 441.25V588.25M212.33 441.25V588.25M235.40 441.25V588.25M258.47 441.25V588.25M281.53 441.25V588.25M304.60 441.25V588.25M327.67 441.25V588.25M85.47 581.55H339.2M85.47 548.15H339.2M85.47 514.75H339.2M85.47 481.35H339.2M85.47 447.95H339.2" stroke="#b0b0b0" stroke-width="1.11" fill="none"/>
<polyline points="97.00,456.90 108.54,537.46 120.07,563.11 131.60,560.71 143.14,563.11 154.67,560.71 166.20,566.85 177.74,572.60 189.27,577.41 200.80,579.28 212.33,580.21 223.87,580.88 235.40,581.15 246.93,581.55 258.47,581.55 270.00,581.55 281.53,581.55 293.07,581.55 304.60,581.55 316.13,581.55 327.67,581.55" fill="none" stroke="#008000" stroke-width="2.08" stroke-linejoin="round"/>
<polygon points="92.83,452.73 101.17,456.90 92.83,461.07" fill="#008000" stroke="#008000" stroke-width="1.39" stroke-linejoin="miter"/>
<polygon points="104.37,533.29 112.71,537.46 104.37,541.63" fill="#008000" stroke="#008000" stroke-width="1.39" stroke-linejoin="miter"/>
<polygon points="115.90,558.94 124.24,563.11 115.90,567.28" fill="#008000" stroke="#008000" stroke-width="1.39" stroke-linejoin="miter"/>
<polygon points="127.43,556.54 135.77,560.71 127.43,564.88" fill="#008000" stroke="#008000" stroke-width="1.39" stroke-linejoin="miter"/>
<polygon points="138.97,558.94 147.31,563.11 138.97,567.28" fill="#008000" stroke="#008000" stroke-width="1.39" stroke-linejoin="miter"/>
<polygon points="150.50,556.54 158.84,560.71 150.50,564.88" fill="#008000" stroke="#008000" stroke-width="1.39" stroke-linejoin="miter"/>
<polygon points="162.03,562.68 170.37,566.85 162.03,571.02" fill="#008000" stroke="#008000" stroke-width="1.39" stroke-linejoin="miter"/>
<polygon points="173.57,568.43 181.91,572.60 173.57,576.77" fill="#008000" stroke="#008000" stroke-width="1.39" stroke-linejoin="miter"/>
<polygon points="185.10,573.24 193.44,577.41 185.10,581.58" fill="#008000" stroke="#008000" stroke-width="1.39" stroke-linejoin="miter"/>
<polygon points="196.63,575.11 204.97,579.28 196.63,583.45" fill="#008000" stroke="#008000" stroke-width="1.39" stroke-linejoin="miter"/>
<polygon points="208.16,576.04 216.50,580.21 208.16,584.38" fill="#008000" stroke="#008000" stroke-width="1.39" stroke-linejoin="miter"/>
<polygon points="219.70,576.71 228.04,580.88 219.70,585.05" fill="#008000" stroke="#008000" stroke-width="1.39" stroke-linejoin="miter"/>
<polygon points="231.23,576.98 239.57,581.15 231.23,585.32" fill="#008000" stroke="#008000" stroke-width="1.39" stroke-linejoin="miter"/>
<polygon points="242.76,577.38 251.10,581.55 242.76,585.72" fill="#008000" stroke="#008000" stroke-width="1.39" stroke-linejoin="miter"/>
<polygon points="254.30,577.38 262.64,581.55 254.30,585.72" fill="#008000" stroke="#008000" stroke-width="1.39" stroke-linejoin="miter"/>
<polygon points="265.83,577.38 274.17,581.55 265.83,585.72" fill="#008000" stroke="#008000" stroke-width="1.39" stroke-linejoin="miter"/>
<polygon points="277.36,577.38 285.70,581.55 277.36,585.72" fill="#008000" stroke="#008000" stroke-width="1.39" stroke-linejoin="miter"/>
<polygon points="288.90,577.38 297.24,581.55 288.90,585.72" fill="#008000" stroke="#008000" stroke-width="1.39" stroke-linejoin="miter"/>
<polygon points="300.43,577.38 308.77,581.55 300.43,585.72" fill="#008000" stroke="#008000" stroke-width="1.39" stroke-linejoin="miter"/>
<polygon points="311.96,577.38 320.30,581.55 311.96,585.72" fill="#008000" stroke="#008000" stroke-width="1.39" stroke-linejoin="miter"/>
<polygon points="323.50,577.38 331.84,581.55 323.50,585.72" fill="#008000" stroke="#008000" stroke-width="1.39" stroke-linejoin="miter"/>
<polyline points="97.00,448.35 108.54,451.69 120.07,456.90 131.60,461.98 143.14,467.32 154.67,478.68 166.20,571.66 177.74,570.73 189.27,577.01 200.80,579.28 212.33,580.21 223.87,580.88 235.40,581.15 246.93,581.55 258.47,581.55 270.00,581.55 281.53,581.55 293.07,581.55 304.60,581.55 316.13,581.55 327.67,581.55" fill="none" stroke="#ff0000" stroke-width="2.08" stroke-linejoin="round"/>
<polygon points="101.17,444.18 92.83,448.35 101.17,452.52" fill="#ff0000" stroke="#ff0000" stroke-width="1.39" stroke-linejoin="miter"/>
<polygon points="112.71,447.52 104.37,451.69 112.71,455.86" fill="#ff0000" stroke="#ff0000" stroke-width="1.39" stroke-linejoin="miter"/>
<polygon points="124.24,452.73 115.90,456.90 124.24,461.07" fill="#ff0000" stroke="#ff0000" stroke-width="1.39" stroke-linejoin="miter"/>
<polygon points="135.77,457.81 127.43,461.98 135.77,466.15" fill="#ff0000" stroke="#ff0000" stroke-width="1.39" stroke-linejoin="miter"/>
<polygon points="147.31,463.15 138.97,467.32 147.31,471.49" fill="#ff0000" stroke="#ff0000" stroke-width="1.39" stroke-linejoin="miter"/>
<polygon points="158.84,474.51 150.50,478.68 158.84,482.85" fill="#ff0000" stroke="#ff0000" stroke-width="1.39" stroke-linejoin="miter"/>
<polygon points="170.37,567.49 162.03,571.66 170.37,575.83" fill="#ff0000" stroke="#ff0000" stroke-width="1.39" stroke-linejoin="miter"/>
<polygon points="181.91,566.56 173.57,570.73 181.91,574.90" fill="#ff0000" stroke="#ff0000" stroke-width="1.39" stroke-linejoin="miter"/>
<polygon points="193.44,572.84 185.10,577.01 193.44,581.18" fill="#ff0000" stroke="#ff0000" stroke-width="1.39" stroke-linejoin="miter"/>
<polygon points="204.97,575.11 196.63,579.28 204.97,583.45" fill="#ff0000" stroke="#ff0000" stroke-width="1.39" stroke-linejoin="miter"/>
<polygon points="216.50,576.04 208.16,580.21 216.50,584.38" fill="#ff0000" stroke="#ff0000" stroke-width="1.39" stroke-linejoin="miter"/>
<polygon points="228.04,576.71 219.70,580.88 228.04,585.05" fill="#ff0000" stroke="#ff0000" stroke-width="1.39" stroke-linejoin="miter"/>
<polygon points="239.57,576.98 231.23,581.15 239.57,585.32" fill="#ff0000" stroke="#ff0000" stroke-width="1.39" stroke-linejoin="miter"/>
<polygon points="251.10,577.38 242.76,581.55 251.10,585.72" fill="#ff0000" stroke="#ff0000" stroke-width="1.39" stroke-linejoin="miter"/>
<polygon points="262.64,577.38 254.30,581.55 262.64,585.72" fill="#ff0000" stroke="#ff0000" stroke-width="1.39" stroke-linejoin="miter"/>
<polygon points="274.17,577.38 265.83,581.55 274.17,585.72" fill="#ff0000" stroke="#ff0000" stroke-width="1.39" stroke-linejoin="miter"/>
<polygon points="285.70,577.38 277.36,581.55 285.70,585.72" fill="#ff0000" stroke="#ff0000" stroke-width="1.39" stroke-linejoin="miter"/>
<polygon points="297.24,577.38 288.90,581.55 297.24,585.72" fill="#ff0000" stroke="#ff0000" stroke-width="1.39" stroke-linejoin="miter"/>
<polygon points="308.77,577.38 300.43,581.55 308.77,585.72" fill="#ff0000" stroke="#ff0000" stroke-width="1.39" stroke-linejoin="miter"/>
<polygon points="320.30,577.38 311.96,581.55 320.30,585.72" fill="#ff0000" stroke="#ff0000" stroke-width="1.39" stroke-linejoin="miter"/>
<polygon points="331.84,577.38 323.50,581.55 331.84,585.72" fill="#ff0000" stroke="#ff0000" stroke-width="1.39" stroke-linejoin="miter"/>
<polyline points="97.00,518.89 108.54,514.75 120.07,510.07 131.60,503.39 143.14,492.04 154.67,451.69 166.20,449.29 177.74,448.75 189.27,448.75 200.80,448.75 212.33,448.75 223.87,448.75 235.40,448.75 246.93,448.75 258.47,448.75 270.00,448.75 281.53,448.75 293.07,448.75 304.60,448.75 316.13,448.75 327.67,448.75" fill="none" stroke="#0000ff" stroke-width="2.08" stroke-linejoin="round"/>
<polygon points="92.83,523.06 97.00,514.72 101.17,523.06" fill="#0000ff" stroke="#0000ff" stroke-width="1.39" stroke-linejoin="miter"/>
<polygon points="104.37,518.92 108.54,510.58 112.71,518.92" fill="#0000ff" stroke="#0000ff" stroke-width="1.39" stroke-linejoin="miter"/>
<polygon points="115.90,514.24 120.07,505.90 124.24,514.24" fill="#0000ff" stroke="#0000ff" stroke-width="1.39" stroke-linejoin="miter"/>
<polygon points="127.43,507.56 131.60,499.22 135.77,507.56" fill="#0000ff" stroke="#0000ff" stroke-width="1.39" stroke-linejoin="miter"/>
<polygon points="138.97,496.21 143.14,487.87 147.31,496.21" fill="#0000ff" stroke="#0000ff" stroke-width="1.39" stroke-linejoin="miter"/>
<polygon points="150.50,455.86 154.67,447.52 158.84,455.86" fill="#0000ff" stroke="#0000ff" stroke-width="1.39" stroke-linejoin="miter"/>
<polygon points="162.03,453.46 166.20,445.12 170.37,453.46" fill="#0000ff" stroke="#0000ff" stroke-width="1.39" stroke-linejoin="miter"/>
<polygon points="173.57,452.92 177.74,444.58 181.91,452.92" fill="#0000ff" stroke="#0000ff" stroke-width="1.39" stroke-linejoin="miter"/>
<polygon points="185.10,452.92 189.27,444.58 193.44,452.92" fill="#0000ff" stroke="#0000ff" stroke-width="1.39" stroke-linejoin="miter"/>
<polygon points="196.63,452.92 200.80,444.58 204.97,452.92" fill="#0000ff" stroke="#0000ff" stroke-width="1.39" stroke-linejoin="miter"/>
<polygon points="208.16,452.92 212.33,444.58 216.50,452.92" fill="#0000ff" stroke="#0000ff" stroke-width="1.39" stroke-linejoin="miter"/>
<polygon points="219.70,452.92 223.87,444.58 228.04,452.92" fill="#0000ff" stroke="#0000ff" stroke-width="1.39" stroke-linejoin="miter"/>
<polygon points="231.23,452.92 235.40,444.58 239.57,452.92" fill="#0000ff" stroke="#0000ff" stroke-width="1.39" stroke-linejoin="miter"/>
<polygon points="242.76,452.92 246.93,444.58 251.10,452.92" fill="#0000ff" stroke="#0000ff" stroke-width="1.39" stroke-linejoin="miter"/>
<polygon points="254.30,452.92 258.47,444.58 262.64,452.92" fill="#0000ff" stroke="#0000ff" stroke-width="1.39" stroke-linejoin="miter"/>
<polygon points="265.83,452.92 270.00,444.58 274.17,452.92" fill="#0000ff" stroke="#0000ff" stroke-width="1.39" stroke-linejoin="miter"/>
<polygon points="277.36,452.92 281.53,444.58 285.70,452.92" fill="#0000ff" stroke="#0000ff" stroke-width="1.39" stroke-linejoin="miter"/>
<polygon points="288.90,452.92 293.07,444.58 297.24,452.92" fill="#0000ff" stroke="#0000ff" stroke-width="1.39" stroke-linejoin="miter"/>
<polygon points="300.43,452.92 304.60,444.58 308.77,452.92" fill="#0000ff" stroke="#0000ff" stroke-width="1.39" stroke-linejoin="miter"/>
<polygon points="311.96,452.92 316.13,444.58 320.30,452.92" fill="#0000ff" stroke="#0000ff" stroke-width="1.39" stroke-linejoin="miter"/>
<polygon points="323.50,452.92 327.67,444.58 331.84,452.92" fill="#0000ff" stroke="#0000ff" stroke-width="1.39" stroke-linejoin="miter"/>
</g>
<rect x="250.32" y="483.75" width="81.5" height="61.7" rx="2.8" fill="#fff" fill-opacity="0.8" stroke="#ccc" stroke-opacity="0.8" stroke-width="1.39"/>
<path d="M254.97 493.65H285.32" stroke="#008000" stroke-width="2.08"/>
<polygon points="265.95,489.48 274.29,493.65 265.95,497.82" fill="#008000" stroke="#008000" stroke-width="1.39" stroke-linejoin="miter"/>
<text x="296.02" y="498.70" font-size="13.7" textLength="6.9" lengthAdjust="spacingAndGlyphs">1</text>
<path d="M307.22 494.95h8.5" stroke="#000" stroke-width="0.75"/>
<text x="319.72" y="498.70" font-size="14.299999999999999" font-style="italic">p</text>
<path d="M254.97 513.15H285.32" stroke="#ff0000" stroke-width="2.08"/>
<polygon points="274.29,508.98 265.95,513.15 274.29,517.32" fill="#ff0000" stroke="#ff0000" stroke-width="1.39" stroke-linejoin="miter"/>
<text x="296.02" y="518.20" font-size="13.7" textLength="6.9" lengthAdjust="spacingAndGlyphs">1</text>
<path d="M307.22 514.45h8.5" stroke="#000" stroke-width="0.75"/>
<text x="319.72" y="518.20" font-size="14.299999999999999" font-style="italic">q</text>
<path d="M254.97 532.65H285.32" stroke="#0000ff" stroke-width="2.08"/>
<polygon points="265.95,536.82 270.12,528.48 274.29,536.82" fill="#0000ff" stroke="#0000ff" stroke-width="1.39" stroke-linejoin="miter"/>
<text x="295.92" y="537.70" font-size="14.299999999999999" font-style="italic" textLength="10.0" lengthAdjust="spacingAndGlyphs">F</text>
<rect x="85.47" y="441.25" width="253.73" height="147.0" fill="none" stroke="#000" stroke-width="1.2"/>
<path d="M97.00 588.25v4.86M120.07 588.25v4.86M143.14 588.25v4.86M166.20 588.25v4.86M189.27 588.25v4.86M212.33 588.25v4.86M235.40 588.25v4.86M258.47 588.25v4.86M281.53 588.25v4.86M304.60 588.25v4.86M327.67 588.25v4.86M85.47 581.55h-4.86M85.47 548.15h-4.86M85.47 514.75h-4.86M85.47 481.35h-4.86M85.47 447.95h-4.86" stroke="#000" stroke-width="1.11" fill="none"/>
<text x="97.00" y="607.95" font-size="13.7" text-anchor="middle" textLength="6.75" lengthAdjust="spacingAndGlyphs">0</text>
<text x="120.07" y="607.95" font-size="13.7" text-anchor="middle" textLength="6.75" lengthAdjust="spacingAndGlyphs">2</text>
<text x="143.14" y="607.95" font-size="13.7" text-anchor="middle" textLength="6.75" lengthAdjust="spacingAndGlyphs">4</text>
<text x="166.20" y="607.95" font-size="13.7" text-anchor="middle" textLength="6.75" lengthAdjust="spacingAndGlyphs">6</text>
<text x="189.27" y="607.95" font-size="13.7" text-anchor="middle" textLength="6.75" lengthAdjust="spacingAndGlyphs">8</text>
<text x="212.33" y="607.95" font-size="13.7" text-anchor="middle" textLength="13.5" lengthAdjust="spacingAndGlyphs">10</text>
<text x="235.40" y="607.95" font-size="13.7" text-anchor="middle" textLength="13.5" lengthAdjust="spacingAndGlyphs">12</text>
<text x="258.47" y="607.95" font-size="13.7" text-anchor="middle" textLength="13.5" lengthAdjust="spacingAndGlyphs">14</text>
<text x="281.53" y="607.95" font-size="13.7" text-anchor="middle" textLength="13.5" lengthAdjust="spacingAndGlyphs">16</text>
<text x="304.60" y="607.95" font-size="13.7" text-anchor="middle" textLength="13.5" lengthAdjust="spacingAndGlyphs">18</text>
<text x="327.67" y="607.95" font-size="13.7" text-anchor="middle" textLength="13.5" lengthAdjust="spacingAndGlyphs">20</text>
<text x="75.87" y="586.70" font-size="13.7" text-anchor="end" textLength="24.5" lengthAdjust="spacingAndGlyphs">0.00</text>
<text x="75.87" y="553.30" font-size="13.7" text-anchor="end" textLength="24.5" lengthAdjust="spacingAndGlyphs">0.25</text>
<text x="75.87" y="519.90" font-size="13.7" text-anchor="end" textLength="24.5" lengthAdjust="spacingAndGlyphs">0.50</text>
<text x="75.87" y="486.50" font-size="13.7" text-anchor="end" textLength="24.5" lengthAdjust="spacingAndGlyphs">0.75</text>
<text x="75.87" y="453.10" font-size="13.7" text-anchor="end" textLength="24.5" lengthAdjust="spacingAndGlyphs">1.00</text>
<text x="212.33" y="625.75" font-size="13.7" text-anchor="middle" textLength="38.2" lengthAdjust="spacingAndGlyphs">Epoch</text>
<text transform="translate(42.77 514.85) rotate(-90)" font-size="13.7" text-anchor="middle" textLength="124.4" lengthAdjust="spacingAndGlyphs">Learning parameters</text>
<clipPath id="c21"><rect x="430.9" y="441.25" width="253.60000000000002" height="147.0"/></clipPath>
<g clip-path="url(#c21)">
<path d="M442.43 441.25V588.25M465.48 441.25V588.25M488.54 441.25V588.25M511.59 441.25V588.25M534.65 441.25V588.25M557.70 441.25V588.25M580.75 441.25V588.25M603.81 441.25V588.25M626.86 441.25V588.25M649.92 441.25V588.25M672.97 441.25V588.25M430.9 581.55H684.5M430.9 548.15H684.5M430.9 514.75H684.5M430.9 481.35H684.5M430.9 447.95H684.5" stroke="#b0b0b0" stroke-width="1.11" fill="none"/>
<polyline points="442.43,456.90 453.95,454.36 465.48,511.94 477.01,514.35 488.54,536.93 500.06,537.86 511.59,547.62 523.12,549.49 534.65,549.89 546.17,551.36 557.70,553.89 569.23,553.49 580.75,556.70 592.28,563.38 603.81,564.05 615.34,566.19 626.86,569.39 638.39,573.53 649.92,579.28 661.45,581.02 672.97,581.55" fill="none" stroke="#008000" stroke-width="2.08" stroke-linejoin="round"/>
<polygon points="438.26,452.73 446.60,456.90 438.26,461.07" fill="#008000" stroke="#008000" stroke-width="1.39" stroke-linejoin="miter"/>
<polygon points="449.78,450.19 458.12,454.36 449.78,458.53" fill="#008000" stroke="#008000" stroke-width="1.39" stroke-linejoin="miter"/>
<polygon points="461.31,507.77 469.65,511.94 461.31,516.11" fill="#008000" stroke="#008000" stroke-width="1.39" stroke-linejoin="miter"/>
<polygon points="472.84,510.18 481.18,514.35 472.84,518.52" fill="#008000" stroke="#008000" stroke-width="1.39" stroke-linejoin="miter"/>
<polygon points="484.37,532.76 492.71,536.93 484.37,541.10" fill="#008000" stroke="#008000" stroke-width="1.39" stroke-linejoin="miter"/>
<polygon points="495.89,533.69 504.23,537.86 495.89,542.03" fill="#008000" stroke="#008000" stroke-width="1.39" stroke-linejoin="miter"/>
<polygon points="507.42,543.45 515.76,547.62 507.42,551.79" fill="#008000" stroke="#008000" stroke-width="1.39" stroke-linejoin="miter"/>
<polygon points="518.95,545.32 527.29,549.49 518.95,553.66" fill="#008000" stroke="#008000" stroke-width="1.39" stroke-linejoin="miter"/>
<polygon points="530.48,545.72 538.82,549.89 530.48,554.06" fill="#008000" stroke="#008000" stroke-width="1.39" stroke-linejoin="miter"/>
<polygon points="542.00,547.19 550.34,551.36 542.00,555.53" fill="#008000" stroke="#008000" stroke-width="1.39" stroke-linejoin="miter"/>
<polygon points="553.53,549.72 561.87,553.89 553.53,558.06" fill="#008000" stroke="#008000" stroke-width="1.39" stroke-linejoin="miter"/>
<polygon points="565.06,549.32 573.40,553.49 565.06,557.66" fill="#008000" stroke="#008000" stroke-width="1.39" stroke-linejoin="miter"/>
<polygon points="576.58,552.53 584.92,556.70 576.58,560.87" fill="#008000" stroke="#008000" stroke-width="1.39" stroke-linejoin="miter"/>
<polygon points="588.11,559.21 596.45,563.38 588.11,567.55" fill="#008000" stroke="#008000" stroke-width="1.39" stroke-linejoin="miter"/>
<polygon points="599.64,559.88 607.98,564.05 599.64,568.22" fill="#008000" stroke="#008000" stroke-width="1.39" stroke-linejoin="miter"/>
<polygon points="611.17,562.02 619.51,566.19 611.17,570.36" fill="#008000" stroke="#008000" stroke-width="1.39" stroke-linejoin="miter"/>
<polygon points="622.69,565.22 631.03,569.39 622.69,573.56" fill="#008000" stroke="#008000" stroke-width="1.39" stroke-linejoin="miter"/>
<polygon points="634.22,569.36 642.56,573.53 634.22,577.70" fill="#008000" stroke="#008000" stroke-width="1.39" stroke-linejoin="miter"/>
<polygon points="645.75,575.11 654.09,579.28 645.75,583.45" fill="#008000" stroke="#008000" stroke-width="1.39" stroke-linejoin="miter"/>
<polygon points="657.28,576.85 665.62,581.02 657.28,585.19" fill="#008000" stroke="#008000" stroke-width="1.39" stroke-linejoin="miter"/>
<polygon points="668.80,577.38 677.14,581.55 668.80,585.72" fill="#008000" stroke="#008000" stroke-width="1.39" stroke-linejoin="miter"/>
<polyline points="442.43,448.35 453.95,537.46 465.48,527.71 477.01,569.79 488.54,576.47 500.06,580.75 511.59,581.55 523.12,581.55 534.65,581.55 546.17,581.55 557.70,581.55 569.23,581.55 580.75,581.55 592.28,581.55 603.81,581.55 615.34,581.55 626.86,581.55 638.39,581.55 649.92,581.55 661.45,581.55 672.97,581.55" fill="none" stroke="#ff0000" stroke-width="2.08" stroke-linejoin="round"/>
<polygon points="446.60,444.18 438.26,448.35 446.60,452.52" fill="#ff0000" stroke="#ff0000" stroke-width="1.39" stroke-linejoin="miter"/>
<polygon points="458.12,533.29 449.78,537.46 458.12,541.63" fill="#ff0000" stroke="#ff0000" stroke-width="1.39" stroke-linejoin="miter"/>
<polygon points="469.65,523.54 461.31,527.71 469.65,531.88" fill="#ff0000" stroke="#ff0000" stroke-width="1.39" stroke-linejoin="miter"/>
<polygon points="481.18,565.62 472.84,569.79 481.18,573.96" fill="#ff0000" stroke="#ff0000" stroke-width="1.39" stroke-linejoin="miter"/>
<polygon points="492.71,572.30 484.37,576.47 492.71,580.64" fill="#ff0000" stroke="#ff0000" stroke-width="1.39" stroke-linejoin="miter"/>
<polygon points="504.23,576.58 495.89,580.75 504.23,584.92" fill="#ff0000" stroke="#ff0000" stroke-width="1.39" stroke-linejoin="miter"/>
<polygon points="515.76,577.38 507.42,581.55 515.76,585.72" fill="#ff0000" stroke="#ff0000" stroke-width="1.39" stroke-linejoin="miter"/>
<polygon points="527.29,577.38 518.95,581.55 527.29,585.72" fill="#ff0000" stroke="#ff0000" stroke-width="1.39" stroke-linejoin="miter"/>
<polygon points="538.82,577.38 530.48,581.55 538.82,585.72" fill="#ff0000" stroke="#ff0000" stroke-width="1.39" stroke-linejoin="miter"/>
<polygon points="550.34,577.38 542.00,581.55 550.34,585.72" fill="#ff0000" stroke="#ff0000" stroke-width="1.39" stroke-linejoin="miter"/>
<polygon points="561.87,577.38 553.53,581.55 561.87,585.72" fill="#ff0000" stroke="#ff0000" stroke-width="1.39" stroke-linejoin="miter"/>
<polygon points="573.40,577.38 565.06,581.55 573.40,585.72" fill="#ff0000" stroke="#ff0000" stroke-width="1.39" stroke-linejoin="miter"/>
<polygon points="584.92,577.38 576.58,581.55 584.92,585.72" fill="#ff0000" stroke="#ff0000" stroke-width="1.39" stroke-linejoin="miter"/>
<polygon points="596.45,577.38 588.11,581.55 596.45,585.72" fill="#ff0000" stroke="#ff0000" stroke-width="1.39" stroke-linejoin="miter"/>
<polygon points="607.98,577.38 599.64,581.55 607.98,585.72" fill="#ff0000" stroke="#ff0000" stroke-width="1.39" stroke-linejoin="miter"/>
<polygon points="619.51,577.38 611.17,581.55 619.51,585.72" fill="#ff0000" stroke="#ff0000" stroke-width="1.39" stroke-linejoin="miter"/>
<polygon points="631.03,577.38 622.69,581.55 631.03,585.72" fill="#ff0000" stroke="#ff0000" stroke-width="1.39" stroke-linejoin="miter"/>
<polygon points="642.56,577.38 634.22,581.55 642.56,585.72" fill="#ff0000" stroke="#ff0000" stroke-width="1.39" stroke-linejoin="miter"/>
<polygon points="654.09,577.38 645.75,581.55 654.09,585.72" fill="#ff0000" stroke="#ff0000" stroke-width="1.39" stroke-linejoin="miter"/>
<polygon points="665.62,577.38 657.28,581.55 665.62,585.72" fill="#ff0000" stroke="#ff0000" stroke-width="1.39" stroke-linejoin="miter"/>
<polygon points="677.14,577.38 668.80,581.55 677.14,585.72" fill="#ff0000" stroke="#ff0000" stroke-width="1.39" stroke-linejoin="miter"/>
<polyline points="442.43,518.22 453.95,573.53 465.48,574.87 477.01,555.50 488.54,551.76 500.06,520.76 511.59,520.76 523.12,519.56 534.65,516.62 546.17,515.75 557.70,515.75 569.23,515.28 580.75,514.88 592.28,512.75 603.81,511.14 615.34,507.94 626.86,508.60 638.39,467.59 649.92,470.26 661.45,461.31 672.97,452.23" fill="none" stroke="#0000ff" stroke-width="2.08" stroke-linejoin="round"/>
<polygon points="438.26,522.39 442.43,514.05 446.60,522.39" fill="#0000ff" stroke="#0000ff" stroke-width="1.39" stroke-linejoin="miter"/>
<polygon points="449.78,577.70 453.95,569.36 458.12,577.70" fill="#0000ff" stroke="#0000ff" stroke-width="1.39" stroke-linejoin="miter"/>
<polygon points="461.31,579.04 465.48,570.70 469.65,579.04" fill="#0000ff" stroke="#0000ff" stroke-width="1.39" stroke-linejoin="miter"/>
<polygon points="472.84,559.67 477.01,551.33 481.18,559.67" fill="#0000ff" stroke="#0000ff" stroke-width="1.39" stroke-linejoin="miter"/>
<polygon points="484.37,555.93 488.54,547.59 492.71,555.93" fill="#0000ff" stroke="#0000ff" stroke-width="1.39" stroke-linejoin="miter"/>
<polygon points="495.89,524.93 500.06,516.59 504.23,524.93" fill="#0000ff" stroke="#0000ff" stroke-width="1.39" stroke-linejoin="miter"/>
<polygon points="507.42,524.93 511.59,516.59 515.76,524.93" fill="#0000ff" stroke="#0000ff" stroke-width="1.39" stroke-linejoin="miter"/>
<polygon points="518.95,523.73 523.12,515.39 527.29,523.73" fill="#0000ff" stroke="#0000ff" stroke-width="1.39" stroke-linejoin="miter"/>
<polygon points="530.48,520.79 534.65,512.45 538.82,520.79" fill="#0000ff" stroke="#0000ff" stroke-width="1.39" stroke-linejoin="miter"/>
<polygon points="542.00,519.92 546.17,511.58 550.34,519.92" fill="#0000ff" stroke="#0000ff" stroke-width="1.39" stroke-linejoin="miter"/>
<polygon points="553.53,519.92 557.70,511.58 561.87,519.92" fill="#0000ff" stroke="#0000ff" stroke-width="1.39" stroke-linejoin="miter"/>
<polygon points="565.06,519.45 569.23,511.11 573.40,519.45" fill="#0000ff" stroke="#0000ff" stroke-width="1.39" stroke-linejoin="miter"/>
<polygon points="576.58,519.05 580.75,510.71 584.92,519.05" fill="#0000ff" stroke="#0000ff" stroke-width="1.39" stroke-linejoin="miter"/>
<polygon points="588.11,516.92 592.28,508.58 596.45,516.92" fill="#0000ff" stroke="#0000ff" stroke-width="1.39" stroke-linejoin="miter"/>
<polygon points="599.64,515.31 603.81,506.97 607.98,515.31" fill="#0000ff" stroke="#0000ff" stroke-width="1.39" stroke-linejoin="miter"/>
<polygon points="611.17,512.11 615.34,503.77 619.51,512.11" fill="#0000ff" stroke="#0000ff" stroke-width="1.39" stroke-linejoin="miter"/>
<polygon points="622.69,512.77 626.86,504.43 631.03,512.77" fill="#0000ff" stroke="#0000ff" stroke-width="1.39" stroke-linejoin="miter"/>
<polygon points="634.22,471.76 638.39,463.42 642.56,471.76" fill="#0000ff" stroke="#0000ff" stroke-width="1.39" stroke-linejoin="miter"/>
<polygon points="645.75,474.43 649.92,466.09 654.09,474.43" fill="#0000ff" stroke="#0000ff" stroke-width="1.39" stroke-linejoin="miter"/>
<polygon points="657.28,465.48 661.45,457.14 665.62,465.48" fill="#0000ff" stroke="#0000ff" stroke-width="1.39" stroke-linejoin="miter"/>
<polygon points="668.80,456.40 672.97,448.06 677.14,456.40" fill="#0000ff" stroke="#0000ff" stroke-width="1.39" stroke-linejoin="miter"/>
</g>
<rect x="596.15" y="483.75" width="81.5" height="61.7" rx="2.8" fill="#fff" fill-opacity="0.8" stroke="#ccc" stroke-opacity="0.8" stroke-width="1.39"/>
<path d="M600.80 493.65H631.15" stroke="#008000" stroke-width="2.08"/>
<polygon points="611.78,489.48 620.12,493.65 611.78,497.82" fill="#008000" stroke="#008000" stroke-width="1.39" stroke-linejoin="miter"/>
<text x="641.55" y="498.70" font-size="13.7" textLength="6.9" lengthAdjust="spacingAndGlyphs">1</text>
<path d="M652.75 494.95h8.5" stroke="#000" stroke-width="0.75"/>
<text x="665.25" y="498.70" font-size="14.299999999999999" font-style="italic">p</text>
<path d="M600.80 513.15H631.15" stroke="#ff0000" stroke-width="2.08"/>
<polygon points="620.12,508.98 611.78,513.15 620.12,517.32" fill="#ff0000" stroke="#ff0000" stroke-width="1.39" stroke-linejoin="miter"/>
<text x="641.55" y="518.20" font-size="13.7" textLength="6.9" lengthAdjust="spacingAndGlyphs">1</text>
<path d="M652.75 514.45h8.5" stroke="#000" stroke-width="0.75"/>
<text x="665.25" y="518.20" font-size="14.299999999999999" font-style="italic">q</text>
<path d="M600.80 532.65H631.15" stroke="#0000ff" stroke-width="2.08"/>
<polygon points="611.78,536.82 615.95,528.48 620.12,536.82" fill="#0000ff" stroke="#0000ff" stroke-width="1.39" stroke-linejoin="miter"/>
<text x="641.45" y="537.70" font-size="14.299999999999999" font-style="italic" textLength="10.0" lengthAdjust="spacingAndGlyphs">F</text>
<rect x="430.9" y="441.25" width="253.60000000000002" height="147.0" fill="none" stroke="#000" stroke-width="1.2"/>
<path d="M442.43 588.25v4.86M465.48 588.25v4.86M488.54 588.25v4.86M511.59 588.25v4.86M534.65 588.25v4.86M557.70 588.25v4.86M580.75 588.25v4.86M603.81 588.25v4.86M626.86 588.25v4.86M649.92 588.25v4.86M672.97 588.25v4.86M430.9 581.55h-4.86M430.9 548.15h-4.86M430.9 514.75h-4.86M430.9 481.35h-4.86M430.9 447.95h-4.86" stroke="#000" stroke-width="1.11" fill="none"/>
<text x="442.43" y="607.95" font-size="13.7" text-anchor="middle" textLength="6.75" lengthAdjust="spacingAndGlyphs">0</text>
<text x="465.48" y="607.95" font-size="13.7" text-anchor="middle" textLength="6.75" lengthAdjust="spacingAndGlyphs">2</text>
<text x="488.54" y="607.95" font-size="13.7" text-anchor="middle" textLength="6.75" lengthAdjust="spacingAndGlyphs">4</text>
<text x="511.59" y="607.95" font-size="13.7" text-anchor="middle" textLength="6.75" lengthAdjust="spacingAndGlyphs">6</text>
<text x="534.65" y="607.95" font-size="13.7" text-anchor="middle" textLength="6.75" lengthAdjust="spacingAndGlyphs">8</text>
<text x="557.70" y="607.95" font-size="13.7" text-anchor="middle" textLength="13.5" lengthAdjust="spacingAndGlyphs">10</text>
<text x="580.75" y="607.95" font-size="13.7" text-anchor="middle" textLength="13.5" lengthAdjust="spacingAndGlyphs">12</text>
<text x="603.81" y="607.95" font-size="13.7" text-anchor="middle" textLength="13.5" lengthAdjust="spacingAndGlyphs">14</text>
<text x="626.86" y="607.95" font-size="13.7" text-anchor="middle" textLength="13.5" lengthAdjust="spacingAndGlyphs">16</text>
<text x="649.92" y="607.95" font-size="13.7" text-anchor="middle" textLength="13.5" lengthAdjust="spacingAndGlyphs">18</text>
<text x="672.97" y="607.95" font-size="13.7" text-anchor="middle" textLength="13.5" lengthAdjust="spacingAndGlyphs">20</text>
<text x="421.30" y="586.70" font-size="13.7" text-anchor="end" textLength="24.5" lengthAdjust="spacingAndGlyphs">0.00</text>
<text x="421.30" y="553.30" font-size="13.7" text-anchor="end" textLength="24.5" lengthAdjust="spacingAndGlyphs">0.25</text>
<text x="421.30" y="519.90" font-size="13.7" text-anchor="end" textLength="24.5" lengthAdjust="spacingAndGlyphs">0.50</text>
<text x="421.30" y="486.50" font-size="13.7" text-anchor="end" textLength="24.5" lengthAdjust="spacingAndGlyphs">0.75</text>
<text x="421.30" y="453.10" font-size="13.7" text-anchor="end" textLength="24.5" lengthAdjust="spacingAndGlyphs">1.00</text>
<text x="557.70" y="625.75" font-size="13.7" text-anchor="middle" textLength="38.2" lengthAdjust="spacingAndGlyphs">Epoch</text>
<text transform="translate(388.20 514.85) rotate(-90)" font-size="13.7" text-anchor="middle" textLength="124.4" lengthAdjust="spacingAndGlyphs">Learning parameters</text>
<text x="0.3" y="671.9" font-size="19">d)</text>
<clipPath id="c30"><rect x="85.47" y="660.0" width="253.73" height="147.0"/></clipPath>
<g clip-path="url(#c30)">
<path d="M97.00 660.0V807.0M120.07 660.0V807.0M143.14 660.0V807.0M166.20 660.0V807.0M189.27 660.0V807.0M212.33 660.0V807.0M235.40 660.0V807.0M258.47 660.0V807.0M281.53 660.0V807.0M304.60 660.0V807.0M327.67 660.0V807.0M85.47 800.25H339.2M85.47 766.85H339.2M85.47 733.45H339.2M85.47 700.05H339.2M85.47 666.65H339.2" stroke="#b0b0b0" stroke-width="1.11" fill="none"/>
<polyline points="97.00,666.65 108.54,707.93 120.07,757.77 131.60,768.99 143.14,770.06 154.67,771.79 166.20,774.06 177.74,777.54 189.27,784.22 200.80,787.69 212.33,790.50 223.87,796.24 235.40,798.65 246.93,799.58 258.47,799.98 270.00,800.25 281.53,800.25 293.07,800.25 304.60,800.25 316.13,800.25 327.67,800.25" fill="none" stroke="#008000" stroke-width="2.08" stroke-linejoin="round"/>
<polygon points="92.83,662.48 101.17,666.65 92.83,670.82" fill="#008000" stroke="#008000" stroke-width="1.39" stroke-linejoin="miter"/>
<polygon points="104.37,703.76 112.71,707.93 104.37,712.10" fill="#008000" stroke="#008000" stroke-width="1.39" stroke-linejoin="miter"/>
<polygon points="115.90,753.60 124.24,757.77 115.90,761.94" fill="#008000" stroke="#008000" stroke-width="1.39" stroke-linejoin="miter"/>
<polygon points="127.43,764.82 135.77,768.99 127.43,773.16" fill="#008000" stroke="#008000" stroke-width="1.39" stroke-linejoin="miter"/>
<polygon points="138.97,765.89 147.31,770.06 138.97,774.23" fill="#008000" stroke="#008000" stroke-width="1.39" stroke-linejoin="miter"/>
<polygon points="150.50,767.62 158.84,771.79 150.50,775.96" fill="#008000" stroke="#008000" stroke-width="1.39" stroke-linejoin="miter"/>
<polygon points="162.03,769.89 170.37,774.06 162.03,778.23" fill="#008000" stroke="#008000" stroke-width="1.39" stroke-linejoin="miter"/>
<polygon points="173.57,773.37 181.91,777.54 173.57,781.71" fill="#008000" stroke="#008000" stroke-width="1.39" stroke-linejoin="miter"/>
<polygon points="185.10,780.05 193.44,784.22 185.10,788.39" fill="#008000" stroke="#008000" stroke-width="1.39" stroke-linejoin="miter"/>
<polygon points="196.63,783.52 204.97,787.69 196.63,791.86" fill="#008000" stroke="#008000" stroke-width="1.39" stroke-linejoin="miter"/>
<polygon points="208.16,786.33 216.50,790.50 208.16,794.67" fill="#008000" stroke="#008000" stroke-width="1.39" stroke-linejoin="miter"/>
<polygon points="219.70,792.07 228.04,796.24 219.70,800.41" fill="#008000" stroke="#008000" stroke-width="1.39" stroke-linejoin="miter"/>
<polygon points="231.23,794.48 239.57,798.65 231.23,802.82" fill="#008000" stroke="#008000" stroke-width="1.39" stroke-linejoin="miter"/>
<polygon points="242.76,795.41 251.10,799.58 242.76,803.75" fill="#008000" stroke="#008000" stroke-width="1.39" stroke-linejoin="miter"/>
<polygon points="254.30,795.81 262.64,799.98 254.30,804.15" fill="#008000" stroke="#008000" stroke-width="1.39" stroke-linejoin="miter"/>
<polygon points="265.83,796.08 274.17,800.25 265.83,804.42" fill="#008000" stroke="#008000" stroke-width="1.39" stroke-linejoin="miter"/>
<polygon points="277.36,796.08 285.70,800.25 277.36,804.42" fill="#008000" stroke="#008000" stroke-width="1.39" stroke-linejoin="miter"/>
<polygon points="288.90,796.08 297.24,800.25 288.90,804.42" fill="#008000" stroke="#008000" stroke-width="1.39" stroke-linejoin="miter"/>
<polygon points="300.43,796.08 308.77,800.25 300.43,804.42" fill="#008000" stroke="#008000" stroke-width="1.39" stroke-linejoin="miter"/>
<polygon points="311.96,796.08 320.30,800.25 311.96,804.42" fill="#008000" stroke="#008000" stroke-width="1.39" stroke-linejoin="miter"/>
<polygon points="323.50,796.08 331.84,800.25 323.50,804.42" fill="#008000" stroke="#008000" stroke-width="1.39" stroke-linejoin="miter"/>
<polyline points="97.00,666.65 108.54,669.59 120.07,686.42 131.60,725.70 143.14,738.33 154.67,771.79 166.20,771.79 177.74,777.54 189.27,783.42 200.80,788.09 212.33,790.50 223.87,796.24 235.40,799.05 246.93,799.58 258.47,799.98 270.00,800.25 281.53,800.25 293.07,800.25 304.60,800.25 316.13,800.25 327.67,800.25" fill="none" stroke="#ff0000" stroke-width="2.08" stroke-linejoin="round"/>
<polygon points="101.17,662.48 92.83,666.65 101.17,670.82" fill="#ff0000" stroke="#ff0000" stroke-width="1.39" stroke-linejoin="miter"/>
<polygon points="112.71,665.42 104.37,669.59 112.71,673.76" fill="#ff0000" stroke="#ff0000" stroke-width="1.39" stroke-linejoin="miter"/>
<polygon points="124.24,682.25 115.90,686.42 124.24,690.59" fill="#ff0000" stroke="#ff0000" stroke-width="1.39" stroke-linejoin="miter"/>
<polygon points="135.77,721.53 127.43,725.70 135.77,729.87" fill="#ff0000" stroke="#ff0000" stroke-width="1.39" stroke-linejoin="miter"/>
<polygon points="147.31,734.16 138.97,738.33 147.31,742.50" fill="#ff0000" stroke="#ff0000" stroke-width="1.39" stroke-linejoin="miter"/>
<polygon points="158.84,767.62 150.50,771.79 158.84,775.96" fill="#ff0000" stroke="#ff0000" stroke-width="1.39" stroke-linejoin="miter"/>
<polygon points="170.37,767.62 162.03,771.79 170.37,775.96" fill="#ff0000" stroke="#ff0000" stroke-width="1.39" stroke-linejoin="miter"/>
<polygon points="181.91,773.37 173.57,777.54 181.91,781.71" fill="#ff0000" stroke="#ff0000" stroke-width="1.39" stroke-linejoin="miter"/>
<polygon points="193.44,779.25 185.10,783.42 193.44,787.59" fill="#ff0000" stroke="#ff0000" stroke-width="1.39" stroke-linejoin="miter"/>
<polygon points="204.97,783.92 196.63,788.09 204.97,792.26" fill="#ff0000" stroke="#ff0000" stroke-width="1.39" stroke-linejoin="miter"/>
<polygon points="216.50,786.33 208.16,790.50 216.50,794.67" fill="#ff0000" stroke="#ff0000" stroke-width="1.39" stroke-linejoin="miter"/>
<polygon points="228.04,792.07 219.70,796.24 228.04,800.41" fill="#ff0000" stroke="#ff0000" stroke-width="1.39" stroke-linejoin="miter"/>
<polygon points="239.57,794.88 231.23,799.05 239.57,803.22" fill="#ff0000" stroke="#ff0000" stroke-width="1.39" stroke-linejoin="miter"/>
<polygon points="251.10,795.41 242.76,799.58 251.10,803.75" fill="#ff0000" stroke="#ff0000" stroke-width="1.39" stroke-linejoin="miter"/>
<polygon points="262.64,795.81 254.30,799.98 262.64,804.15" fill="#ff0000" stroke="#ff0000" stroke-width="1.39" stroke-linejoin="miter"/>
<polygon points="274.17,796.08 265.83,800.25 274.17,804.42" fill="#ff0000" stroke="#ff0000" stroke-width="1.39" stroke-linejoin="miter"/>
<polygon points="285.70,796.08 277.36,800.25 285.70,804.42" fill="#ff0000" stroke="#ff0000" stroke-width="1.39" stroke-linejoin="miter"/>
<polygon points="297.24,796.08 288.90,800.25 297.24,804.42" fill="#ff0000" stroke="#ff0000" stroke-width="1.39" stroke-linejoin="miter"/>
<polygon points="308.77,796.08 300.43,800.25 308.77,804.42" fill="#ff0000" stroke="#ff0000" stroke-width="1.39" stroke-linejoin="miter"/>
<polygon points="320.30,796.08 311.96,800.25 320.30,804.42" fill="#ff0000" stroke="#ff0000" stroke-width="1.39" stroke-linejoin="miter"/>
<polygon points="331.84,796.08 323.50,800.25 331.84,804.42" fill="#ff0000" stroke="#ff0000" stroke-width="1.39" stroke-linejoin="miter"/>
<polyline points="97.00,721.49 108.54,708.60 120.07,692.30 131.60,672.93 143.14,667.05 154.67,666.78 166.20,666.78 177.74,666.78 189.27,666.78 200.80,666.78 212.33,666.78 223.87,666.78 235.40,666.78 246.93,666.78 258.47,666.78 270.00,666.78 281.53,666.78 293.07,666.78 304.60,666.78 316.13,666.78 327.67,666.78" fill="none" stroke="#0000ff" stroke-width="2.08" stroke-linejoin="round"/>
<polygon points="92.83,725.66 97.00,717.32 101.17,725.66" fill="#0000ff" stroke="#0000ff" stroke-width="1.39" stroke-linejoin="miter"/>
<polygon points="104.37,712.77 108.54,704.43 112.71,712.77" fill="#0000ff" stroke="#0000ff" stroke-width="1.39" stroke-linejoin="miter"/>
<polygon points="115.90,696.47 120.07,688.13 124.24,696.47" fill="#0000ff" stroke="#0000ff" stroke-width="1.39" stroke-linejoin="miter"/>
<polygon points="127.43,677.10 131.60,668.76 135.77,677.10" fill="#0000ff" stroke="#0000ff" stroke-width="1.39" stroke-linejoin="miter"/>
<polygon points="138.97,671.22 143.14,662.88 147.31,671.22" fill="#0000ff" stroke="#0000ff" stroke-width="1.39" stroke-linejoin="miter"/>
<polygon points="150.50,670.95 154.67,662.61 158.84,670.95" fill="#0000ff" stroke="#0000ff" stroke-width="1.39" stroke-linejoin="miter"/>
<polygon points="162.03,670.95 166.20,662.61 170.37,670.95" fill="#0000ff" stroke="#0000ff" stroke-width="1.39" stroke-linejoin="miter"/>
<polygon points="173.57,670.95 177.74,662.61 181.91,670.95" fill="#0000ff" stroke="#0000ff" stroke-width="1.39" stroke-linejoin="miter"/>
<polygon points="185.10,670.95 189.27,662.61 193.44,670.95" fill="#0000ff" stroke="#0000ff" stroke-width="1.39" stroke-linejoin="miter"/>
<polygon points="196.63,670.95 200.80,662.61 204.97,670.95" fill="#0000ff" stroke="#0000ff" stroke-width="1.39" stroke-linejoin="miter"/>
<polygon points="208.16,670.95 212.33,662.61 216.50,670.95" fill="#0000ff" stroke="#0000ff" stroke-width="1.39" stroke-linejoin="miter"/>
<polygon points="219.70,670.95 223.87,662.61 228.04,670.95" fill="#0000ff" stroke="#0000ff" stroke-width="1.39" stroke-linejoin="miter"/>
<polygon points="231.23,670.95 235.40,662.61 239.57,670.95" fill="#0000ff" stroke="#0000ff" stroke-width="1.39" stroke-linejoin="miter"/>
<polygon points="242.76,670.95 246.93,662.61 251.10,670.95" fill="#0000ff" stroke="#0000ff" stroke-width="1.39" stroke-linejoin="miter"/>
<polygon points="254.30,670.95 258.47,662.61 262.64,670.95" fill="#0000ff" stroke="#0000ff" stroke-width="1.39" stroke-linejoin="miter"/>
<polygon points="265.83,670.95 270.00,662.61 274.17,670.95" fill="#0000ff" stroke="#0000ff" stroke-width="1.39" stroke-linejoin="miter"/>
<polygon points="277.36,670.95 281.53,662.61 285.70,670.95" fill="#0000ff" stroke="#0000ff" stroke-width="1.39" stroke-linejoin="miter"/>
<polygon points="288.90,670.95 293.07,662.61 297.24,670.95" fill="#0000ff" stroke="#0000ff" stroke-width="1.39" stroke-linejoin="miter"/>
<polygon points="300.43,670.95 304.60,662.61 308.77,670.95" fill="#0000ff" stroke="#0000ff" stroke-width="1.39" stroke-linejoin="miter"/>
<polygon points="311.96,670.95 316.13,662.61 320.30,670.95" fill="#0000ff" stroke="#0000ff" stroke-width="1.39" stroke-linejoin="miter"/>
<polygon points="323.50,670.95 327.67,662.61 331.84,670.95" fill="#0000ff" stroke="#0000ff" stroke-width="1.39" stroke-linejoin="miter"/>
</g>
<rect x="250.32" y="702.50" width="81.5" height="61.7" rx="2.8" fill="#fff" fill-opacity="0.8" stroke="#ccc" stroke-opacity="0.8" stroke-width="1.39"/>
<path d="M254.97 712.40H285.32" stroke="#008000" stroke-width="2.08"/>
<polygon points="265.95,708.23 274.29,712.40 265.95,716.57" fill="#008000" stroke="#008000" stroke-width="1.39" stroke-linejoin="miter"/>
<text x="296.02" y="717.45" font-size="13.7" textLength="6.9" lengthAdjust="spacingAndGlyphs">1</text>
<path d="M307.22 713.70h8.5" stroke="#000" stroke-width="0.75"/>
<text x="319.72" y="717.45" font-size="14.299999999999999" font-style="italic">p</text>
<path d="M254.97 731.90H285.32" stroke="#ff0000" stroke-width="2.08"/>
<polygon points="274.29,727.73 265.95,731.90 274.29,736.07" fill="#ff0000" stroke="#ff0000" stroke-width="1.39" stroke-linejoin="miter"/>
<text x="296.02" y="736.95" font-size="13.7" textLength="6.9" lengthAdjust="spacingAndGlyphs">1</text>
<path d="M307.22 733.20h8.5" stroke="#000" stroke-width="0.75"/>
<text x="319.72" y="736.95" font-size="14.299999999999999" font-style="italic">q</text>
<path d="M254.97 751.40H285.32" stroke="#0000ff" stroke-width="2.08"/>
<polygon points="265.95,755.57 270.12,747.23 274.29,755.57" fill="#0000ff" stroke="#0000ff" stroke-width="1.39" stroke-linejoin="miter"/>
<text x="295.92" y="756.45" font-size="14.299999999999999" font-style="italic" textLength="10.0" lengthAdjust="spacingAndGlyphs">F</text>
<rect x="85.47" y="660.0" width="253.73" height="147.0" fill="none" stroke="#000" stroke-width="1.2"/>
<path d="M97.00 807.0v4.86M120.07 807.0v4.86M143.14 807.0v4.86M166.20 807.0v4.86M189.27 807.0v4.86M212.33 807.0v4.86M235.40 807.0v4.86M258.47 807.0v4.86M281.53 807.0v4.86M304.60 807.0v4.86M327.67 807.0v4.86M85.47 800.25h-4.86M85.47 766.85h-4.86M85.47 733.45h-4.86M85.47 700.05h-4.86M85.47 666.65h-4.86" stroke="#000" stroke-width="1.11" fill="none"/>
<text x="97.00" y="826.70" font-size="13.7" text-anchor="middle" textLength="6.75" lengthAdjust="spacingAndGlyphs">0</text>
<text x="120.07" y="826.70" font-size="13.7" text-anchor="middle" textLength="6.75" lengthAdjust="spacingAndGlyphs">2</text>
<text x="143.14" y="826.70" font-size="13.7" text-anchor="middle" textLength="6.75" lengthAdjust="spacingAndGlyphs">4</text>
<text x="166.20" y="826.70" font-size="13.7" text-anchor="middle" textLength="6.75" lengthAdjust="spacingAndGlyphs">6</text>
<text x="189.27" y="826.70" font-size="13.7" text-anchor="middle" textLength="6.75" lengthAdjust="spacingAndGlyphs">8</text>
<text x="212.33" y="826.70" font-size="13.7" text-anchor="middle" textLength="13.5" lengthAdjust="spacingAndGlyphs">10</text>
<text x="235.40" y="826.70" font-size="13.7" text-anchor="middle" textLength="13.5" lengthAdjust="spacingAndGlyphs">12</text>
<text x="258.47" y="826.70" font-size="13.7" text-anchor="middle" textLength="13.5" lengthAdjust="spacingAndGlyphs">14</text>
<text x="281.53" y="826.70" font-size="13.7" text-anchor="middle" textLength="13.5" lengthAdjust="spacingAndGlyphs">16</text>
<text x="304.60" y="826.70" font-size="13.7" text-anchor="middle" textLength="13.5" lengthAdjust="spacingAndGlyphs">18</text>
<text x="327.67" y="826.70" font-size="13.7" text-anchor="middle" textLength="13.5" lengthAdjust="spacingAndGlyphs">20</text>
<text x="75.87" y="805.40" font-size="13.7" text-anchor="end" textLength="24.5" lengthAdjust="spacingAndGlyphs">0.00</text>
<text x="75.87" y="772.00" font-size="13.7" text-anchor="end" textLength="24.5" lengthAdjust="spacingAndGlyphs">0.25</text>
<text x="75.87" y="738.60" font-size="13.7" text-anchor="end" textLength="24.5" lengthAdjust="spacingAndGlyphs">0.50</text>
<text x="75.87" y="705.20" font-size="13.7" text-anchor="end" textLength="24.5" lengthAdjust="spacingAndGlyphs">0.75</text>
<text x="75.87" y="671.80" font-size="13.7" text-anchor="end" textLength="24.5" lengthAdjust="spacingAndGlyphs">1.00</text>
<text x="212.33" y="844.50" font-size="13.7" text-anchor="middle" textLength="38.2" lengthAdjust="spacingAndGlyphs">Epoch</text>
<text transform="translate(42.77 733.60) rotate(-90)" font-size="13.7" text-anchor="middle" textLength="124.4" lengthAdjust="spacingAndGlyphs">Learning parameters</text>
<clipPath id="c31"><rect x="430.9" y="660.0" width="253.60000000000002" height="147.0"/></clipPath>
<g clip-path="url(#c31)">
<path d="M442.43 660.0V807.0M465.48 660.0V807.0M488.54 660.0V807.0M511.59 660.0V807.0M534.65 660.0V807.0M557.70 660.0V807.0M580.75 660.0V807.0M603.81 660.0V807.0M626.86 660.0V807.0M649.92 660.0V807.0M672.97 660.0V807.0M430.9 800.25H684.5M430.9 766.85H684.5M430.9 733.45H684.5M430.9 700.05H684.5M430.9 666.65H684.5" stroke="#b0b0b0" stroke-width="1.11" fill="none"/>
<polyline points="442.43,666.65 453.95,764.71 465.48,755.36 477.01,779.94 488.54,784.22 500.06,791.57 511.59,794.37 523.12,796.24 534.65,797.44 546.17,798.65 557.70,799.18 569.23,799.58 580.75,799.85 592.28,800.25 603.81,800.25 615.34,800.25 626.86,800.25 638.39,800.25 649.92,800.25 661.45,800.25 672.97,800.25" fill="none" stroke="#008000" stroke-width="2.08" stroke-linejoin="round"/>
<polygon points="438.26,662.48 446.60,666.65 438.26,670.82" fill="#008000" stroke="#008000" stroke-width="1.39" stroke-linejoin="miter"/>
<polygon points="449.78,760.54 458.12,764.71 449.78,768.88" fill="#008000" stroke="#008000" stroke-width="1.39" stroke-linejoin="miter"/>
<polygon points="461.31,751.19 469.65,755.36 461.31,759.53" fill="#008000" stroke="#008000" stroke-width="1.39" stroke-linejoin="miter"/>
<polygon points="472.84,775.77 481.18,779.94 472.84,784.11" fill="#008000" stroke="#008000" stroke-width="1.39" stroke-linejoin="miter"/>
<polygon points="484.37,780.05 492.71,784.22 484.37,788.39" fill="#008000" stroke="#008000" stroke-width="1.39" stroke-linejoin="miter"/>
<polygon points="495.89,787.40 504.23,791.57 495.89,795.74" fill="#008000" stroke="#008000" stroke-width="1.39" stroke-linejoin="miter"/>
<polygon points="507.42,790.20 515.76,794.37 507.42,798.54" fill="#008000" stroke="#008000" stroke-width="1.39" stroke-linejoin="miter"/>
<polygon points="518.95,792.07 527.29,796.24 518.95,800.41" fill="#008000" stroke="#008000" stroke-width="1.39" stroke-linejoin="miter"/>
<polygon points="530.48,793.27 538.82,797.44 530.48,801.61" fill="#008000" stroke="#008000" stroke-width="1.39" stroke-linejoin="miter"/>
<polygon points="542.00,794.48 550.34,798.65 542.00,802.82" fill="#008000" stroke="#008000" stroke-width="1.39" stroke-linejoin="miter"/>
<polygon points="553.53,795.01 561.87,799.18 553.53,803.35" fill="#008000" stroke="#008000" stroke-width="1.39" stroke-linejoin="miter"/>
<polygon points="565.06,795.41 573.40,799.58 565.06,803.75" fill="#008000" stroke="#008000" stroke-width="1.39" stroke-linejoin="miter"/>
<polygon points="576.58,795.68 584.92,799.85 576.58,804.02" fill="#008000" stroke="#008000" stroke-width="1.39" stroke-linejoin="miter"/>
<polygon points="588.11,796.08 596.45,800.25 588.11,804.42" fill="#008000" stroke="#008000" stroke-width="1.39" stroke-linejoin="miter"/>
<polygon points="599.64,796.08 607.98,800.25 599.64,804.42" fill="#008000" stroke="#008000" stroke-width="1.39" stroke-linejoin="miter"/>
<polygon points="611.17,796.08 619.51,800.25 611.17,804.42" fill="#008000" stroke="#008000" stroke-width="1.39" stroke-linejoin="miter"/>
<polygon points="622.69,796.08 631.03,800.25 622.69,804.42" fill="#008000" stroke="#008000" stroke-width="1.39" stroke-linejoin="miter"/>
<polygon points="634.22,796.08 642.56,800.25 634.22,804.42" fill="#008000" stroke="#008000" stroke-width="1.39" stroke-linejoin="miter"/>
<polygon points="645.75,796.08 654.09,800.25 645.75,804.42" fill="#008000" stroke="#008000" stroke-width="1.39" stroke-linejoin="miter"/>
<polygon points="657.28,796.08 665.62,800.25 657.28,804.42" fill="#008000" stroke="#008000" stroke-width="1.39" stroke-linejoin="miter"/>
<polygon points="668.80,796.08 677.14,800.25 668.80,804.42" fill="#008000" stroke="#008000" stroke-width="1.39" stroke-linejoin="miter"/>
<polyline points="442.43,666.65 453.95,744.41 465.48,792.77 477.01,795.57 488.54,799.05 500.06,799.05 511.59,798.11 523.12,798.65 534.65,799.58 546.17,799.85 557.70,800.25 569.23,800.25 580.75,800.25 592.28,800.25 603.81,800.25 615.34,800.25 626.86,800.25 638.39,800.25 649.92,800.25 661.45,800.25 672.97,800.25" fill="none" stroke="#ff0000" stroke-width="2.08" stroke-linejoin="round"/>
<polygon points="446.60,662.48 438.26,666.65 446.60,670.82" fill="#ff0000" stroke="#ff0000" stroke-width="1.39" stroke-linejoin="miter"/>
<polygon points="458.12,740.24 449.78,744.41 458.12,748.58" fill="#ff0000" stroke="#ff0000" stroke-width="1.39" stroke-linejoin="miter"/>
<polygon points="469.65,788.60 461.31,792.77 469.65,796.94" fill="#ff0000" stroke="#ff0000" stroke-width="1.39" stroke-linejoin="miter"/>
<polygon points="481.18,791.40 472.84,795.57 481.18,799.74" fill="#ff0000" stroke="#ff0000" stroke-width="1.39" stroke-linejoin="miter"/>
<polygon points="492.71,794.88 484.37,799.05 492.71,803.22" fill="#ff0000" stroke="#ff0000" stroke-width="1.39" stroke-linejoin="miter"/>
<polygon points="504.23,794.88 495.89,799.05 504.23,803.22" fill="#ff0000" stroke="#ff0000" stroke-width="1.39" stroke-linejoin="miter"/>
<polygon points="515.76,793.94 507.42,798.11 515.76,802.28" fill="#ff0000" stroke="#ff0000" stroke-width="1.39" stroke-linejoin="miter"/>
<polygon points="527.29,794.48 518.95,798.65 527.29,802.82" fill="#ff0000" stroke="#ff0000" stroke-width="1.39" stroke-linejoin="miter"/>
<polygon points="538.82,795.41 530.48,799.58 538.82,803.75" fill="#ff0000" stroke="#ff0000" stroke-width="1.39" stroke-linejoin="miter"/>
<polygon points="550.34,795.68 542.00,799.85 550.34,804.02" fill="#ff0000" stroke="#ff0000" stroke-width="1.39" stroke-linejoin="miter"/>
<polygon points="561.87,796.08 553.53,800.25 561.87,804.42" fill="#ff0000" stroke="#ff0000" stroke-width="1.39" stroke-linejoin="miter"/>
<polygon points="573.40,796.08 565.06,800.25 573.40,804.42" fill="#ff0000" stroke="#ff0000" stroke-width="1.39" stroke-linejoin="miter"/>
<polygon points="584.92,796.08 576.58,800.25 584.92,804.42" fill="#ff0000" stroke="#ff0000" stroke-width="1.39" stroke-linejoin="miter"/>
<polygon points="596.45,796.08 588.11,800.25 596.45,804.42" fill="#ff0000" stroke="#ff0000" stroke-width="1.39" stroke-linejoin="miter"/>
<polygon points="607.98,796.08 599.64,800.25 607.98,804.42" fill="#ff0000" stroke="#ff0000" stroke-width="1.39" stroke-linejoin="miter"/>
<polygon points="619.51,796.08 611.17,800.25 619.51,804.42" fill="#ff0000" stroke="#ff0000" stroke-width="1.39" stroke-linejoin="miter"/>
<polygon points="631.03,796.08 622.69,800.25 631.03,804.42" fill="#ff0000" stroke="#ff0000" stroke-width="1.39" stroke-linejoin="miter"/>
<polygon points="642.56,796.08 634.22,800.25 642.56,804.42" fill="#ff0000" stroke="#ff0000" stroke-width="1.39" stroke-linejoin="miter"/>
<polygon points="654.09,796.08 645.75,800.25 654.09,804.42" fill="#ff0000" stroke="#ff0000" stroke-width="1.39" stroke-linejoin="miter"/>
<polygon points="665.62,796.08 657.28,800.25 665.62,804.42" fill="#ff0000" stroke="#ff0000" stroke-width="1.39" stroke-linejoin="miter"/>
<polygon points="677.14,796.08 668.80,800.25 677.14,804.42" fill="#ff0000" stroke="#ff0000" stroke-width="1.39" stroke-linejoin="miter"/>
<polyline points="442.43,721.49 453.95,774.87 465.48,725.70 477.01,731.98 488.54,702.32 500.06,704.66 511.59,688.83 523.12,689.23 534.65,674.67 546.17,677.07 557.70,667.32 569.23,667.05 580.75,667.05 592.28,667.05 603.81,667.05 615.34,667.05 626.86,667.05 638.39,667.05 649.92,667.05 661.45,667.05 672.97,667.05" fill="none" stroke="#0000ff" stroke-width="2.08" stroke-linejoin="round"/>
<polygon points="438.26,725.66 442.43,717.32 446.60,725.66" fill="#0000ff" stroke="#0000ff" stroke-width="1.39" stroke-linejoin="miter"/>
<polygon points="449.78,779.04 453.95,770.70 458.12,779.04" fill="#0000ff" stroke="#0000ff" stroke-width="1.39" stroke-linejoin="miter"/>
<polygon points="461.31,729.87 465.48,721.53 469.65,729.87" fill="#0000ff" stroke="#0000ff" stroke-width="1.39" stroke-linejoin="miter"/>
<polygon points="472.84,736.15 477.01,727.81 481.18,736.15" fill="#0000ff" stroke="#0000ff" stroke-width="1.39" stroke-linejoin="miter"/>
<polygon points="484.37,706.49 488.54,698.15 492.71,706.49" fill="#0000ff" stroke="#0000ff" stroke-width="1.39" stroke-linejoin="miter"/>
<polygon points="495.89,708.83 500.06,700.49 504.23,708.83" fill="#0000ff" stroke="#0000ff" stroke-width="1.39" stroke-linejoin="miter"/>
<polygon points="507.42,693.00 511.59,684.66 515.76,693.00" fill="#0000ff" stroke="#0000ff" stroke-width="1.39" stroke-linejoin="miter"/>
<polygon points="518.95,693.40 523.12,685.06 527.29,693.40" fill="#0000ff" stroke="#0000ff" stroke-width="1.39" stroke-linejoin="miter"/>
<polygon points="530.48,678.84 534.65,670.50 538.82,678.84" fill="#0000ff" stroke="#0000ff" stroke-width="1.39" stroke-linejoin="miter"/>
<polygon points="542.00,681.24 546.17,672.90 550.34,681.24" fill="#0000ff" stroke="#0000ff" stroke-width="1.39" stroke-linejoin="miter"/>
<polygon points="553.53,671.49 557.70,663.15 561.87,671.49" fill="#0000ff" stroke="#0000ff" stroke-width="1.39" stroke-linejoin="miter"/>
<polygon points="565.06,671.22 569.23,662.88 573.40,671.22" fill="#0000ff" stroke="#0000ff" stroke-width="1.39" stroke-linejoin="miter"/>
<polygon points="576.58,671.22 580.75,662.88 584.92,671.22" fill="#0000ff" stroke="#0000ff" stroke-width="1.39" stroke-linejoin="miter"/>
<polygon points="588.11,671.22 592.28,662.88 596.45,671.22" fill="#0000ff" stroke="#0000ff" stroke-width="1.39" stroke-linejoin="miter"/>
<polygon points="599.64,671.22 603.81,662.88 607.98,671.22" fill="#0000ff" stroke="#0000ff" stroke-width="1.39" stroke-linejoin="miter"/>
<polygon points="611.17,671.22 615.34,662.88 619.51,671.22" fill="#0000ff" stroke="#0000ff" stroke-width="1.39" stroke-linejoin="miter"/>
<polygon points="622.69,671.22 626.86,662.88 631.03,671.22" fill="#0000ff" stroke="#0000ff" stroke-width="1.39" stroke-linejoin="miter"/>
<polygon points="634.22,671.22 638.39,662.88 642.56,671.22" fill="#0000ff" stroke="#0000ff" stroke-width="1.39" stroke-linejoin="miter"/>
<polygon points="645.75,671.22 649.92,662.88 654.09,671.22" fill="#0000ff" stroke="#0000ff" stroke-width="1.39" stroke-linejoin="miter"/>
<polygon points="657.28,671.22 661.45,662.88 665.62,671.22" fill="#0000ff" stroke="#0000ff" stroke-width="1.39" stroke-linejoin="miter"/>
<polygon points="668.80,671.22 672.97,662.88 677.14,671.22" fill="#0000ff" stroke="#0000ff" stroke-width="1.39" stroke-linejoin="miter"/>
</g>
<rect x="596.15" y="702.50" width="81.5" height="61.7" rx="2.8" fill="#fff" fill-opacity="0.8" stroke="#ccc" stroke-opacity="0.8" stroke-width="1.39"/>
<path d="M600.80 712.40H631.15" stroke="#008000" stroke-width="2.08"/>
<polygon points="611.78,708.23 620.12,712.40 611.78,716.57" fill="#008000" stroke="#008000" stroke-width="1.39" stroke-linejoin="miter"/>
<text x="641.55" y="717.45" font-size="13.7" textLength="6.9" lengthAdjust="spacingAndGlyphs">1</text>
<path d="M652.75 713.70h8.5" stroke="#000" stroke-width="0.75"/>
<text x="665.25" y="717.45" font-size="14.299999999999999" font-style="italic">p</text>
<path d="M600.80 731.90H631.15" stroke="#ff0000" stroke-width="2.08"/>
<polygon points="620.12,727.73 611.78,731.90 620.12,736.07" fill="#ff0000" stroke="#ff0000" stroke-width="1.39" stroke-linejoin="miter"/>
<text x="641.55" y="736.95" font-size="13.7" textLength="6.9" lengthAdjust="spacingAndGlyphs">1</text>
<path d="M652.75 733.20h8.5" stroke="#000" stroke-width="0.75"/>
<text x="665.25" y="736.95" font-size="14.299999999999999" font-style="italic">q</text>
<path d="M600.80 751.40H631.15" stroke="#0000ff" stroke-width="2.08"/>
<polygon points="611.78,755.57 615.95,747.23 620.12,755.57" fill="#0000ff" stroke="#0000ff" stroke-width="1.39" stroke-linejoin="miter"/>
<text x="641.45" y="756.45" font-size="14.299999999999999" font-style="italic" textLength="10.0" lengthAdjust="spacingAndGlyphs">F</text>
<rect x="430.9" y="660.0" width="253.60000000000002" height="147.0" fill="none" stroke="#000" stroke-width="1.2"/>
<path d="M442.43 807.0v4.86M465.48 807.0v4.86M488.54 807.0v4.86M511.59 807.0v4.86M534.65 807.0v4.86M557.70 807.0v4.86M580.75 807.0v4.86M603.81 807.0v4.86M626.86 807.0v4.86M649.92 807.0v4.86M672.97 807.0v4.86M430.9 800.25h-4.86M430.9 766.85h-4.86M430.9 733.45h-4.86M430.9 700.05h-4.86M430.9 666.65h-4.86" stroke="#000" stroke-width="1.11" fill="none"/>
<text x="442.43" y="826.70" font-size="13.7" text-anchor="middle" textLength="6.75" lengthAdjust="spacingAndGlyphs">0</text>
<text x="465.48" y="826.70" font-size="13.7" text-anchor="middle" textLength="6.75" lengthAdjust="spacingAndGlyphs">2</text>
<text x="488.54" y="826.70" font-size="13.7" text-anchor="middle" textLength="6.75" lengthAdjust="spacingAndGlyphs">4</text>
<text x="511.59" y="826.70" font-size="13.7" text-anchor="middle" textLength="6.75" lengthAdjust="spacingAndGlyphs">6</text>
<text x="534.65" y="826.70" font-size="13.7" text-anchor="middle" textLength="6.75" lengthAdjust="spacingAndGlyphs">8</text>
<text x="557.70" y="826.70" font-size="13.7" text-anchor="middle" textLength="13.5" lengthAdjust="spacingAndGlyphs">10</text>
<text x="580.75" y="826.70" font-size="13.7" text-anchor="middle" textLength="13.5" lengthAdjust="spacingAndGlyphs">12</text>
<text x="603.81" y="826.70" font-size="13.7" text-anchor="middle" textLength="13.5" lengthAdjust="spacingAndGlyphs">14</text>
<text x="626.86" y="826.70" font-size="13.7" text-anchor="middle" textLength="13.5" lengthAdjust="spacingAndGlyphs">16</text>
<text x="649.92" y="826.70" font-size="13.7" text-anchor="middle" textLength="13.5" lengthAdjust="spacingAndGlyphs">18</text>
<text x="672.97" y="826.70" font-size="13.7" text-anchor="middle" textLength="13.5" lengthAdjust="spacingAndGlyphs">20</text>
<text x="421.30" y="805.40" font-size="13.7" text-anchor="end" textLength="24.5" lengthAdjust="spacingAndGlyphs">0.00</text>
<text x="421.30" y="772.00" font-size="13.7" text-anchor="end" textLength="24.5" lengthAdjust="spacingAndGlyphs">0.25</text>
<text x="421.30" y="738.60" font-size="13.7" text-anchor="end" textLength="24.5" lengthAdjust="spacingAndGlyphs">0.50</text>
<text x="421.30" y="705.20" font-size="13.7" text-anchor="end" textLength="24.5" lengthAdjust="spacingAndGlyphs">0.75</text>
<text x="421.30" y="671.80" font-size="13.7" text-anchor="end" textLength="24.5" lengthAdjust="spacingAndGlyphs">1.00</text>
<text x="557.70" y="844.50" font-size="13.7" text-anchor="middle" textLength="38.2" lengthAdjust="spacingAndGlyphs">Epoch</text>
<text transform="translate(388.20 733.60) rotate(-90)" font-size="13.7" text-anchor="middle" textLength="124.4" lengthAdjust="spacingAndGlyphs">Learning parameters</text>
</svg>
</body></html>
